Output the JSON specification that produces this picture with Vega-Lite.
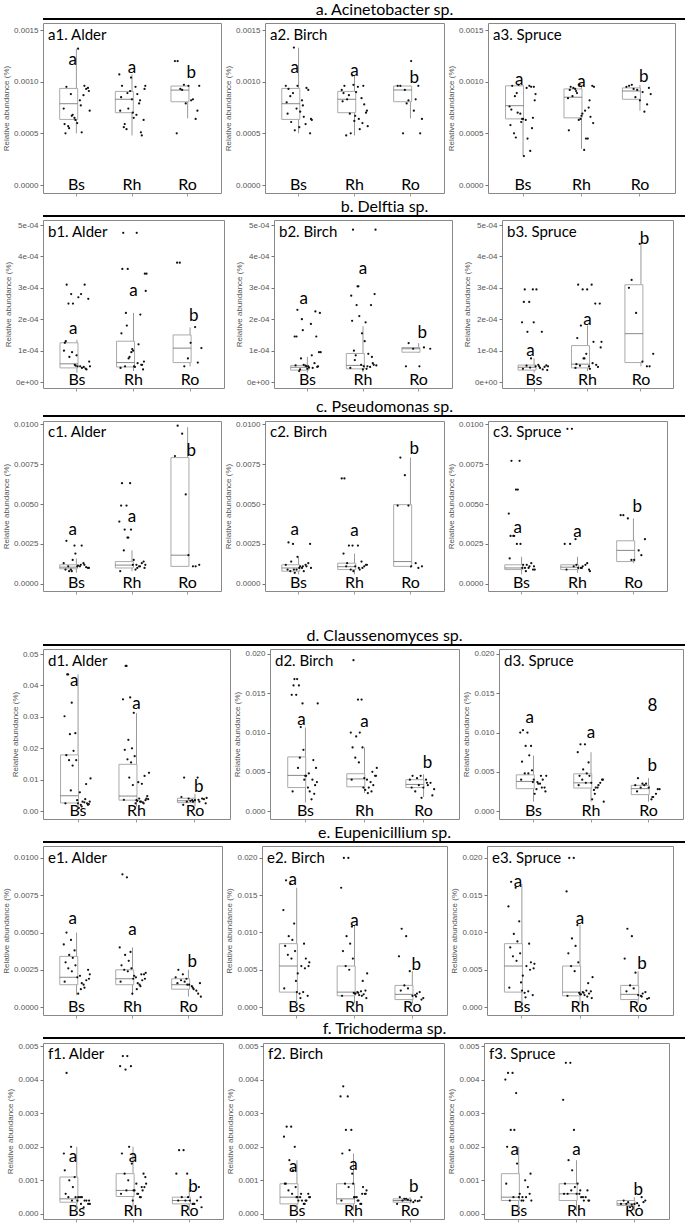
{"$schema":"https://vega.github.io/schema/vega-lite/v6.json","padding":{"left":2,"top":2,"right":0,"bottom":0},"background":"white","spacing":2,
"datasets":{"pts":[
{"p":"a1","g":"Bs","v":9.5e-4},{"p":"a1","g":"Bs","v":6.0e-4},{"p":"a1","g":"Bs","v":8.8e-4},{"p":"a1","g":"Bs","v":5.1e-4},{"p":"a1","g":"Bs","v":7.4e-4},{"p":"a1","g":"Bs","v":9.4e-4},{"p":"a1","g":"Bs","v":6.5e-4},{"p":"a1","g":"Bs","v":9.6e-4},{"p":"a1","g":"Bs","v":5.5e-4},{"p":"a1","g":"Bs","v":8.2e-4},{"p":"a1","g":"Bs","v":6.8e-4},{"p":"a1","g":"Bs","v":9.3e-4},{"p":"a1","g":"Bs","v":5.0e-4},{"p":"a1","g":"Bs","v":7.7e-4},{"p":"a1","g":"Bs","v":6.3e-4},{"p":"a1","g":"Bs","v":9.1e-4},{"p":"a1","g":"Bs","v":5.7e-4},{"p":"a1","g":"Bs","v":8.7e-4},{"p":"a1","g":"Bs","v":6.7e-4},{"p":"a1","g":"Bs","v":1.32e-3},{"p":"a1","g":"Bs","v":7.2e-4},{"p":"a1","g":"Bs","v":5.9e-4},
{"p":"a1","g":"Rh","v":9.6e-4},{"p":"a1","g":"Rh","v":7.0e-4},{"p":"a1","g":"Rh","v":5.4e-4},{"p":"a1","g":"Rh","v":8.8e-4},{"p":"a1","g":"Rh","v":1.07e-3},{"p":"a1","g":"Rh","v":6.3e-4},{"p":"a1","g":"Rh","v":9.1e-4},{"p":"a1","g":"Rh","v":8.2e-4},{"p":"a1","g":"Rh","v":5.9e-4},{"p":"a1","g":"Rh","v":9.5e-4},{"p":"a1","g":"Rh","v":7.4e-4},{"p":"a1","g":"Rh","v":4.8e-4},{"p":"a1","g":"Rh","v":8.5e-4},{"p":"a1","g":"Rh","v":6.8e-4},{"p":"a1","g":"Rh","v":1.04e-3},{"p":"a1","g":"Rh","v":9.3e-4},{"p":"a1","g":"Rh","v":5.6e-4},{"p":"a1","g":"Rh","v":7.9e-4},{"p":"a1","g":"Rh","v":8.9e-4},{"p":"a1","g":"Rh","v":6.5e-4},{"p":"a1","g":"Rh","v":9.6e-4},{"p":"a1","g":"Rh","v":7.2e-4},{"p":"a1","g":"Rh","v":5.1e-4},{"p":"a1","g":"Rh","v":8.3e-4},
{"p":"a1","g":"Ro","v":1.2e-3},{"p":"a1","g":"Ro","v":9.6e-4},{"p":"a1","g":"Ro","v":9.2e-4},{"p":"a1","g":"Ro","v":8.3e-4},{"p":"a1","g":"Ro","v":1.2e-3},{"p":"a1","g":"Ro","v":9.6e-4},{"p":"a1","g":"Ro","v":7.9e-4},{"p":"a1","g":"Ro","v":6.4e-4},{"p":"a1","g":"Ro","v":9.3e-4},{"p":"a1","g":"Ro","v":8.2e-4},{"p":"a1","g":"Ro","v":9.7e-4},{"p":"a1","g":"Ro","v":7.2e-4},{"p":"a1","g":"Ro","v":5.0e-4},
{"p":"a2","g":"Bs","v":9.3e-4},{"p":"a2","g":"Bs","v":5.6e-4},{"p":"a2","g":"Bs","v":8.9e-4},{"p":"a2","g":"Bs","v":6.6e-4},{"p":"a2","g":"Bs","v":9.6e-4},{"p":"a2","g":"Bs","v":5.0e-4},{"p":"a2","g":"Bs","v":7.4e-4},{"p":"a2","g":"Bs","v":9.4e-4},{"p":"a2","g":"Bs","v":6.1e-4},{"p":"a2","g":"Bs","v":8.2e-4},{"p":"a2","g":"Bs","v":5.3e-4},{"p":"a2","g":"Bs","v":9.2e-4},{"p":"a2","g":"Bs","v":6.9e-4},{"p":"a2","g":"Bs","v":7.7e-4},{"p":"a2","g":"Bs","v":9.6e-4},{"p":"a2","g":"Bs","v":6.4e-4},{"p":"a2","g":"Bs","v":8.6e-4},{"p":"a2","g":"Bs","v":5.9e-4},{"p":"a2","g":"Bs","v":1.33e-3},{"p":"a2","g":"Bs","v":7.1e-4},{"p":"a2","g":"Bs","v":6.3e-4},{"p":"a2","g":"Bs","v":8.0e-4},
{"p":"a2","g":"Rh","v":9.6e-4},{"p":"a2","g":"Rh","v":6.7e-4},{"p":"a2","g":"Rh","v":8.7e-4},{"p":"a2","g":"Rh","v":5.4e-4},{"p":"a2","g":"Rh","v":9.2e-4},{"p":"a2","g":"Rh","v":7.0e-4},{"p":"a2","g":"Rh","v":1.06e-3},{"p":"a2","g":"Rh","v":6.0e-4},{"p":"a2","g":"Rh","v":8.3e-4},{"p":"a2","g":"Rh","v":9.5e-4},{"p":"a2","g":"Rh","v":5.0e-4},{"p":"a2","g":"Rh","v":7.8e-4},{"p":"a2","g":"Rh","v":8.9e-4},{"p":"a2","g":"Rh","v":6.4e-4},{"p":"a2","g":"Rh","v":9.7e-4},{"p":"a2","g":"Rh","v":7.2e-4},{"p":"a2","g":"Rh","v":4.8e-4},{"p":"a2","g":"Rh","v":8.4e-4},{"p":"a2","g":"Rh","v":6.9e-4},{"p":"a2","g":"Rh","v":9.0e-4},{"p":"a2","g":"Rh","v":5.7e-4},{"p":"a2","g":"Rh","v":8.1e-4},{"p":"a2","g":"Rh","v":9.6e-4},{"p":"a2","g":"Rh","v":6.2e-4},
{"p":"a2","g":"Ro","v":9.6e-4},{"p":"a2","g":"Ro","v":1.2e-3},{"p":"a2","g":"Ro","v":9.2e-4},{"p":"a2","g":"Ro","v":8.3e-4},{"p":"a2","g":"Ro","v":9.6e-4},{"p":"a2","g":"Ro","v":6.4e-4},{"p":"a2","g":"Ro","v":8.2e-4},{"p":"a2","g":"Ro","v":9.6e-4},{"p":"a2","g":"Ro","v":5.0e-4},{"p":"a2","g":"Ro","v":7.2e-4},{"p":"a2","g":"Ro","v":7.9e-4},{"p":"a2","g":"Ro","v":5.0e-4},
{"p":"a3","g":"Bs","v":9.6e-4},{"p":"a3","g":"Bs","v":6.4e-4},{"p":"a3","g":"Bs","v":8.9e-4},{"p":"a3","g":"Bs","v":4.5e-4},{"p":"a3","g":"Bs","v":7.6e-4},{"p":"a3","g":"Bs","v":9.5e-4},{"p":"a3","g":"Bs","v":6.9e-4},{"p":"a3","g":"Bs","v":3.3e-4},{"p":"a3","g":"Bs","v":8.6e-4},{"p":"a3","g":"Bs","v":6.3e-4},{"p":"a3","g":"Bs","v":9.7e-4},{"p":"a3","g":"Bs","v":5.5e-4},{"p":"a3","g":"Bs","v":7.3e-4},{"p":"a3","g":"Bs","v":9.4e-4},{"p":"a3","g":"Bs","v":6.1e-4},{"p":"a3","g":"Bs","v":8.2e-4},{"p":"a3","g":"Bs","v":5.0e-4},{"p":"a3","g":"Bs","v":9.6e-4},{"p":"a3","g":"Bs","v":7.0e-4},{"p":"a3","g":"Bs","v":2.8e-4},{"p":"a3","g":"Bs","v":8.8e-4},{"p":"a3","g":"Bs","v":5.8e-4},{"p":"a3","g":"Bs","v":9.5e-4},{"p":"a3","g":"Bs","v":6.4e-4},{"p":"a3","g":"Bs","v":4.6e-4},{"p":"a3","g":"Bs","v":6.5e-4},
{"p":"a3","g":"Rh","v":9.5e-4},{"p":"a3","g":"Rh","v":6.7e-4},{"p":"a3","g":"Rh","v":9.3e-4},{"p":"a3","g":"Rh","v":4.5e-4},{"p":"a3","g":"Rh","v":8.4e-4},{"p":"a3","g":"Rh","v":9.6e-4},{"p":"a3","g":"Rh","v":6.3e-4},{"p":"a3","g":"Rh","v":7.5e-4},{"p":"a3","g":"Rh","v":9.4e-4},{"p":"a3","g":"Rh","v":3.4e-4},{"p":"a3","g":"Rh","v":8.9e-4},{"p":"a3","g":"Rh","v":6.6e-4},{"p":"a3","g":"Rh","v":9.2e-4},{"p":"a3","g":"Rh","v":7.2e-4},{"p":"a3","g":"Rh","v":9.7e-4},{"p":"a3","g":"Rh","v":6.0e-4},{"p":"a3","g":"Rh","v":8.6e-4},{"p":"a3","g":"Rh","v":4.5e-4},{"p":"a3","g":"Rh","v":9.1e-4},{"p":"a3","g":"Rh","v":6.9e-4},{"p":"a3","g":"Rh","v":9.5e-4},{"p":"a3","g":"Rh","v":5.3e-4},{"p":"a3","g":"Rh","v":8.2e-4},{"p":"a3","g":"Rh","v":6.4e-4},
{"p":"a3","g":"Ro","v":9.6e-4},{"p":"a3","g":"Ro","v":8.2e-4},{"p":"a3","g":"Ro","v":9.3e-4},{"p":"a3","g":"Ro","v":7.1e-4},{"p":"a3","g":"Ro","v":9.5e-4},{"p":"a3","g":"Ro","v":8.8e-4},{"p":"a3","g":"Ro","v":9.2e-4},{"p":"a3","g":"Ro","v":7.8e-4},{"p":"a3","g":"Ro","v":9.7e-4},{"p":"a3","g":"Ro","v":9.0e-4},{"p":"a3","g":"Ro","v":8.5e-4},{"p":"a3","g":"Ro","v":9.4e-4},
{"p":"b1","g":"Bs","v":3.1e-4},{"p":"b1","g":"Bs","v":5.0e-5},{"p":"b1","g":"Bs","v":2.8e-4},{"p":"b1","g":"Bs","v":4.5e-5},{"p":"b1","g":"Bs","v":1.0e-4},{"p":"b1","g":"Bs","v":2.65e-4},{"p":"b1","g":"Bs","v":5.5e-5},{"p":"b1","g":"Bs","v":3.1e-4},{"p":"b1","g":"Bs","v":8.0e-5},{"p":"b1","g":"Bs","v":5.0e-5},{"p":"b1","g":"Bs","v":2.5e-4},{"p":"b1","g":"Bs","v":4.0e-5},{"p":"b1","g":"Bs","v":1.3e-4},{"p":"b1","g":"Bs","v":2.8e-4},{"p":"b1","g":"Bs","v":5.2e-5},{"p":"b1","g":"Bs","v":6.5e-5},{"p":"b1","g":"Bs","v":2.5e-4},{"p":"b1","g":"Bs","v":4.8e-5},{"p":"b1","g":"Bs","v":9.5e-5},{"p":"b1","g":"Bs","v":2.7e-4},{"p":"b1","g":"Bs","v":5.0e-5},{"p":"b1","g":"Bs","v":1.25e-4},{"p":"b1","g":"Bs","v":4.3e-5},{"p":"b1","g":"Bs","v":8.5e-5},
{"p":"b1","g":"Rh","v":4.75e-4},{"p":"b1","g":"Rh","v":5.0e-5},{"p":"b1","g":"Rh","v":3.6e-4},{"p":"b1","g":"Rh","v":1.2e-4},{"p":"b1","g":"Rh","v":4.5e-5},{"p":"b1","g":"Rh","v":3.45e-4},{"p":"b1","g":"Rh","v":9.5e-5},{"p":"b1","g":"Rh","v":5.5e-5},{"p":"b1","g":"Rh","v":2.2e-4},{"p":"b1","g":"Rh","v":4.75e-4},{"p":"b1","g":"Rh","v":8.0e-5},{"p":"b1","g":"Rh","v":4.0e-5},{"p":"b1","g":"Rh","v":3.6e-4},{"p":"b1","g":"Rh","v":6.0e-5},{"p":"b1","g":"Rh","v":1.05e-4},{"p":"b1","g":"Rh","v":2.9e-4},{"p":"b1","g":"Rh","v":5.0e-5},{"p":"b1","g":"Rh","v":2.15e-4},{"p":"b1","g":"Rh","v":7.5e-5},{"p":"b1","g":"Rh","v":4.8e-5},{"p":"b1","g":"Rh","v":3.45e-4},{"p":"b1","g":"Rh","v":1.55e-4},{"p":"b1","g":"Rh","v":5.5e-5},{"p":"b1","g":"Rh","v":1.0e-4},{"p":"b1","g":"Rh","v":1.8e-4},{"p":"b1","g":"Rh","v":6.5e-5},
{"p":"b1","g":"Ro","v":3.8e-4},{"p":"b1","g":"Ro","v":1.25e-4},{"p":"b1","g":"Ro","v":5.0e-5},{"p":"b1","g":"Ro","v":1.75e-4},{"p":"b1","g":"Ro","v":3.8e-4},{"p":"b1","g":"Ro","v":1.08e-4},{"p":"b1","g":"Ro","v":7.5e-5},{"p":"b1","g":"Ro","v":6.2e-5},
{"p":"b2","g":"Bs","v":2.3e-4},{"p":"b2","g":"Bs","v":5.0e-5},{"p":"b2","g":"Bs","v":2.0e-4},{"p":"b2","g":"Bs","v":4.5e-5},{"p":"b2","g":"Bs","v":1.45e-4},{"p":"b2","g":"Bs","v":9.5e-5},{"p":"b2","g":"Bs","v":5.2e-5},{"p":"b2","g":"Bs","v":2.25e-4},{"p":"b2","g":"Bs","v":4.0e-5},{"p":"b2","g":"Bs","v":1.85e-4},{"p":"b2","g":"Bs","v":5.5e-5},{"p":"b2","g":"Bs","v":4.8e-5},{"p":"b2","g":"Bs","v":1.45e-4},{"p":"b2","g":"Bs","v":8.5e-5},{"p":"b2","g":"Bs","v":5.0e-5},{"p":"b2","g":"Bs","v":2.2e-4},{"p":"b2","g":"Bs","v":3.5e-5},{"p":"b2","g":"Bs","v":6.0e-5},{"p":"b2","g":"Bs","v":1.65e-4},{"p":"b2","g":"Bs","v":4.6e-5},{"p":"b2","g":"Bs","v":9.5e-5},{"p":"b2","g":"Bs","v":5.3e-5},{"p":"b2","g":"Bs","v":1.45e-4},{"p":"b2","g":"Bs","v":4.2e-5},{"p":"b2","g":"Bs","v":7.5e-5},{"p":"b2","g":"Bs","v":5.0e-5},
{"p":"b2","g":"Rh","v":4.85e-4},{"p":"b2","g":"Rh","v":5.0e-5},{"p":"b2","g":"Rh","v":3.05e-4},{"p":"b2","g":"Rh","v":9.0e-5},{"p":"b2","g":"Rh","v":4.5e-5},{"p":"b2","g":"Rh","v":2.8e-4},{"p":"b2","g":"Rh","v":5.5e-5},{"p":"b2","g":"Rh","v":2.45e-4},{"p":"b2","g":"Rh","v":8.5e-5},{"p":"b2","g":"Rh","v":4.2e-5},{"p":"b2","g":"Rh","v":2.1e-4},{"p":"b2","g":"Rh","v":6.0e-5},{"p":"b2","g":"Rh","v":1.95e-4},{"p":"b2","g":"Rh","v":5.0e-5},{"p":"b2","g":"Rh","v":1.55e-4},{"p":"b2","g":"Rh","v":4.85e-4},{"p":"b2","g":"Rh","v":7.0e-5},{"p":"b2","g":"Rh","v":4.8e-5},{"p":"b2","g":"Rh","v":3.05e-4},{"p":"b2","g":"Rh","v":1.3e-4},{"p":"b2","g":"Rh","v":5.3e-5},{"p":"b2","g":"Rh","v":2.75e-4},{"p":"b2","g":"Rh","v":8.0e-5},{"p":"b2","g":"Rh","v":4.0e-5},{"p":"b2","g":"Rh","v":2.45e-4},{"p":"b2","g":"Rh","v":5.5e-5},{"p":"b2","g":"Rh","v":1.9e-4},{"p":"b2","g":"Rh","v":1.0e-4},
{"p":"b2","g":"Ro","v":1.24e-4},{"p":"b2","g":"Ro","v":5.0e-5},{"p":"b2","g":"Ro","v":1.06e-4},{"p":"b2","g":"Ro","v":1.1e-4},{"p":"b2","g":"Ro","v":5.0e-5},{"p":"b2","g":"Ro","v":1.06e-4},
{"p":"b3","g":"Bs","v":2.95e-4},{"p":"b3","g":"Bs","v":5.0e-5},{"p":"b3","g":"Bs","v":2.55e-4},{"p":"b3","g":"Bs","v":4.5e-5},{"p":"b3","g":"Bs","v":1.9e-4},{"p":"b3","g":"Bs","v":5.3e-5},{"p":"b3","g":"Bs","v":2.95e-4},{"p":"b3","g":"Bs","v":4.0e-5},{"p":"b3","g":"Bs","v":1.6e-4},{"p":"b3","g":"Bs","v":5.5e-5},{"p":"b3","g":"Bs","v":7.5e-5},{"p":"b3","g":"Bs","v":4.8e-5},{"p":"b3","g":"Bs","v":2.55e-4},{"p":"b3","g":"Bs","v":5.0e-5},{"p":"b3","g":"Bs","v":1.9e-4},{"p":"b3","g":"Bs","v":3.8e-5},{"p":"b3","g":"Bs","v":5.2e-5},{"p":"b3","g":"Bs","v":1.6e-4},{"p":"b3","g":"Bs","v":4.6e-5},{"p":"b3","g":"Bs","v":2.95e-4},{"p":"b3","g":"Bs","v":5.0e-5},{"p":"b3","g":"Bs","v":4.2e-5},
{"p":"b3","g":"Rh","v":3.1e-4},{"p":"b3","g":"Rh","v":5.0e-5},{"p":"b3","g":"Rh","v":2.95e-4},{"p":"b3","g":"Rh","v":1.28e-4},{"p":"b3","g":"Rh","v":4.5e-5},{"p":"b3","g":"Rh","v":2.5e-4},{"p":"b3","g":"Rh","v":9.0e-5},{"p":"b3","g":"Rh","v":5.5e-5},{"p":"b3","g":"Rh","v":1.8e-4},{"p":"b3","g":"Rh","v":3.1e-4},{"p":"b3","g":"Rh","v":7.5e-5},{"p":"b3","g":"Rh","v":4.8e-5},{"p":"b3","g":"Rh","v":1.4e-4},{"p":"b3","g":"Rh","v":6.0e-5},{"p":"b3","g":"Rh","v":2.95e-4},{"p":"b3","g":"Rh","v":1.1e-4},{"p":"b3","g":"Rh","v":5.2e-5},{"p":"b3","g":"Rh","v":2.5e-4},{"p":"b3","g":"Rh","v":7.5e-5},{"p":"b3","g":"Rh","v":4.2e-5},{"p":"b3","g":"Rh","v":1.28e-4},{"p":"b3","g":"Rh","v":5.7e-5},
{"p":"b3","g":"Ro","v":3.25e-4},{"p":"b3","g":"Ro","v":6.5e-5},{"p":"b3","g":"Ro","v":2.2e-4},{"p":"b3","g":"Ro","v":5.0e-5},{"p":"b3","g":"Ro","v":3.0e-4},{"p":"b3","g":"Ro","v":9.0e-5},{"p":"b3","g":"Ro","v":4.4e-4},{"p":"b3","g":"Ro","v":5.0e-5},
{"p":"c1","g":"Bs","v":0.0027},{"p":"c1","g":"Bs","v":0.0011},{"p":"c1","g":"Bs","v":0.0009},{"p":"c1","g":"Bs","v":0.0024},{"p":"c1","g":"Bs","v":0.0013},{"p":"c1","g":"Bs","v":0.001},{"p":"c1","g":"Bs","v":0.0024},{"p":"c1","g":"Bs","v":0.0012},{"p":"c1","g":"Bs","v":0.0008},{"p":"c1","g":"Bs","v":0.0011},{"p":"c1","g":"Bs","v":0.0015},{"p":"c1","g":"Bs","v":0.00105},{"p":"c1","g":"Bs","v":0.0009},{"p":"c1","g":"Bs","v":0.0012},{"p":"c1","g":"Bs","v":0.0019},{"p":"c1","g":"Bs","v":0.001},{"p":"c1","g":"Bs","v":0.0011},{"p":"c1","g":"Bs","v":0.0013},{"p":"c1","g":"Bs","v":0.0008},{"p":"c1","g":"Bs","v":0.00115},
{"p":"c1","g":"Rh","v":0.0063},{"p":"c1","g":"Rh","v":0.0012},{"p":"c1","g":"Rh","v":0.0049},{"p":"c1","g":"Rh","v":0.001},{"p":"c1","g":"Rh","v":0.0039},{"p":"c1","g":"Rh","v":0.0014},{"p":"c1","g":"Rh","v":0.0063},{"p":"c1","g":"Rh","v":0.0011},{"p":"c1","g":"Rh","v":0.0034},{"p":"c1","g":"Rh","v":0.0009},{"p":"c1","g":"Rh","v":0.0029},{"p":"c1","g":"Rh","v":0.0013},{"p":"c1","g":"Rh","v":0.0049},{"p":"c1","g":"Rh","v":0.0012},{"p":"c1","g":"Rh","v":0.0034},{"p":"c1","g":"Rh","v":0.001},{"p":"c1","g":"Rh","v":0.0021},{"p":"c1","g":"Rh","v":0.0011},{"p":"c1","g":"Rh","v":0.0029},{"p":"c1","g":"Rh","v":0.0015},{"p":"c1","g":"Rh","v":0.0012},{"p":"c1","g":"Rh","v":0.0008},
{"p":"c1","g":"Ro","v":0.0099},{"p":"c1","g":"Ro","v":0.0018},{"p":"c1","g":"Ro","v":0.0094},{"p":"c1","g":"Ro","v":0.0011},{"p":"c1","g":"Ro","v":0.008},{"p":"c1","g":"Ro","v":0.0012},{"p":"c1","g":"Ro","v":0.0056},{"p":"c1","g":"Ro","v":0.0011},
{"p":"c2","g":"Bs","v":0.0026},{"p":"c2","g":"Bs","v":0.001},{"p":"c2","g":"Bs","v":0.0025},{"p":"c2","g":"Bs","v":0.0008},{"p":"c2","g":"Bs","v":0.0012},{"p":"c2","g":"Bs","v":0.0025},{"p":"c2","g":"Bs","v":0.0009},{"p":"c2","g":"Bs","v":0.0011},{"p":"c2","g":"Bs","v":0.0014},{"p":"c2","g":"Bs","v":0.001},{"p":"c2","g":"Bs","v":0.0007},{"p":"c2","g":"Bs","v":0.0013},{"p":"c2","g":"Bs","v":0.0009},{"p":"c2","g":"Bs","v":0.0011},{"p":"c2","g":"Bs","v":0.0017},{"p":"c2","g":"Bs","v":0.001},{"p":"c2","g":"Bs","v":0.0008},{"p":"c2","g":"Bs","v":0.0012},{"p":"c2","g":"Bs","v":0.0009},{"p":"c2","g":"Bs","v":0.0011},
{"p":"c2","g":"Rh","v":0.0066},{"p":"c2","g":"Rh","v":0.0011},{"p":"c2","g":"Rh","v":0.0024},{"p":"c2","g":"Rh","v":0.0009},{"p":"c2","g":"Rh","v":0.0066},{"p":"c2","g":"Rh","v":0.0012},{"p":"c2","g":"Rh","v":0.0024},{"p":"c2","g":"Rh","v":0.001},{"p":"c2","g":"Rh","v":0.0013},{"p":"c2","g":"Rh","v":0.0024},{"p":"c2","g":"Rh","v":0.0009},{"p":"c2","g":"Rh","v":0.0011},{"p":"c2","g":"Rh","v":0.0019},{"p":"c2","g":"Rh","v":0.001},{"p":"c2","g":"Rh","v":0.0008},{"p":"c2","g":"Rh","v":0.0012},{"p":"c2","g":"Rh","v":0.0011},{"p":"c2","g":"Rh","v":0.0014},
{"p":"c2","g":"Ro","v":0.0079},{"p":"c2","g":"Ro","v":0.0011},{"p":"c2","g":"Ro","v":0.0068},{"p":"c2","g":"Ro","v":0.0013},{"p":"c2","g":"Ro","v":0.0049},{"p":"c2","g":"Ro","v":0.0011},{"p":"c2","g":"Ro","v":0.0049},{"p":"c2","g":"Ro","v":0.001},
{"p":"c3","g":"Bs","v":0.0077},{"p":"c3","g":"Bs","v":0.001},{"p":"c3","g":"Bs","v":0.0059},{"p":"c3","g":"Bs","v":0.0012},{"p":"c3","g":"Bs","v":0.0044},{"p":"c3","g":"Bs","v":0.0009},{"p":"c3","g":"Bs","v":0.0077},{"p":"c3","g":"Bs","v":0.0011},{"p":"c3","g":"Bs","v":0.003},{"p":"c3","g":"Bs","v":0.001},{"p":"c3","g":"Bs","v":0.0059},{"p":"c3","g":"Bs","v":0.0013},{"p":"c3","g":"Bs","v":0.003},{"p":"c3","g":"Bs","v":0.0008},{"p":"c3","g":"Bs","v":0.0025},{"p":"c3","g":"Bs","v":0.0011},{"p":"c3","g":"Bs","v":0.003},{"p":"c3","g":"Bs","v":0.001},{"p":"c3","g":"Bs","v":0.0025},{"p":"c3","g":"Bs","v":0.0012},{"p":"c3","g":"Bs","v":0.0009},{"p":"c3","g":"Bs","v":0.0016},
{"p":"c3","g":"Rh","v":0.0097},{"p":"c3","g":"Rh","v":0.001},{"p":"c3","g":"Rh","v":0.0097},{"p":"c3","g":"Rh","v":0.0011},{"p":"c3","g":"Rh","v":0.0025},{"p":"c3","g":"Rh","v":0.0009},{"p":"c3","g":"Rh","v":0.0028},{"p":"c3","g":"Rh","v":0.0012},{"p":"c3","g":"Rh","v":0.0025},{"p":"c3","g":"Rh","v":0.001},{"p":"c3","g":"Rh","v":0.0011},{"p":"c3","g":"Rh","v":0.0013},{"p":"c3","g":"Rh","v":0.0009},{"p":"c3","g":"Rh","v":0.001},{"p":"c3","g":"Rh","v":0.0012},{"p":"c3","g":"Rh","v":0.0008},
{"p":"c3","g":"Ro","v":0.0043},{"p":"c3","g":"Ro","v":0.0015},{"p":"c3","g":"Ro","v":0.0041},{"p":"c3","g":"Ro","v":0.0021},{"p":"c3","g":"Ro","v":0.0043},{"p":"c3","g":"Ro","v":0.0028},{"p":"c3","g":"Ro","v":0.0015},{"p":"c3","g":"Ro","v":0.0018},
{"p":"d1","g":"Bs","v":0.0435},{"p":"d1","g":"Bs","v":0.0025},{"p":"d1","g":"Bs","v":0.0345},{"p":"d1","g":"Bs","v":0.003},{"p":"d1","g":"Bs","v":0.0302},{"p":"d1","g":"Bs","v":0.0022},{"p":"d1","g":"Bs","v":0.0248},{"p":"d1","g":"Bs","v":0.0038},{"p":"d1","g":"Bs","v":0.0245},{"p":"d1","g":"Bs","v":0.002},{"p":"d1","g":"Bs","v":0.0192},{"p":"d1","g":"Bs","v":0.0025},{"p":"d1","g":"Bs","v":0.0178},{"p":"d1","g":"Bs","v":0.0015},{"p":"d1","g":"Bs","v":0.0162},{"p":"d1","g":"Bs","v":0.003},{"p":"d1","g":"Bs","v":0.0162},{"p":"d1","g":"Bs","v":0.0028},{"p":"d1","g":"Bs","v":0.0145},{"p":"d1","g":"Bs","v":0.001},{"p":"d1","g":"Bs","v":0.0104},{"p":"d1","g":"Bs","v":0.0025},{"p":"d1","g":"Bs","v":0.0086},{"p":"d1","g":"Bs","v":0.0035},{"p":"d1","g":"Bs","v":0.0066},{"p":"d1","g":"Bs","v":0.002},{"p":"d1","g":"Bs","v":0.006},{"p":"d1","g":"Bs","v":0.0435},
{"p":"d1","g":"Rh","v":0.0462},{"p":"d1","g":"Rh","v":0.0035},{"p":"d1","g":"Rh","v":0.0362},{"p":"d1","g":"Rh","v":0.003},{"p":"d1","g":"Rh","v":0.0356},{"p":"d1","g":"Rh","v":0.0048},{"p":"d1","g":"Rh","v":0.0313},{"p":"d1","g":"Rh","v":0.0025},{"p":"d1","g":"Rh","v":0.0227},{"p":"d1","g":"Rh","v":0.004},{"p":"d1","g":"Rh","v":0.02},{"p":"d1","g":"Rh","v":0.0035},{"p":"d1","g":"Rh","v":0.0195},{"p":"d1","g":"Rh","v":0.003},{"p":"d1","g":"Rh","v":0.0175},{"p":"d1","g":"Rh","v":0.0038},{"p":"d1","g":"Rh","v":0.0165},{"p":"d1","g":"Rh","v":0.0028},{"p":"d1","g":"Rh","v":0.0155},{"p":"d1","g":"Rh","v":0.0033},{"p":"d1","g":"Rh","v":0.0122},{"p":"d1","g":"Rh","v":0.0036},{"p":"d1","g":"Rh","v":0.0112},{"p":"d1","g":"Rh","v":0.0025},{"p":"d1","g":"Rh","v":0.0107},{"p":"d1","g":"Rh","v":0.004},{"p":"d1","g":"Rh","v":0.0092},{"p":"d1","g":"Rh","v":0.0462},{"p":"d1","g":"Rh","v":0.0087},{"p":"d1","g":"Rh","v":0.0083},
{"p":"d1","g":"Ro","v":0.0107},{"p":"d1","g":"Ro","v":0.0035},{"p":"d1","g":"Ro","v":0.004},{"p":"d1","g":"Ro","v":0.003},{"p":"d1","g":"Ro","v":0.0045},{"p":"d1","g":"Ro","v":0.0025},{"p":"d1","g":"Ro","v":0.0035},{"p":"d1","g":"Ro","v":0.004},{"p":"d1","g":"Ro","v":0.003},{"p":"d1","g":"Ro","v":0.0107},{"p":"d1","g":"Ro","v":0.0033},{"p":"d1","g":"Ro","v":0.0038},{"p":"d1","g":"Ro","v":0.002},{"p":"d1","g":"Ro","v":0.0036},{"p":"d1","g":"Ro","v":0.003},{"p":"d1","g":"Ro","v":0.0042},
{"p":"d2","g":"Bs","v":0.0168},{"p":"d2","g":"Bs","v":0.0045},{"p":"d2","g":"Bs","v":0.016},{"p":"d2","g":"Bs","v":0.0025},{"p":"d2","g":"Bs","v":0.0148},{"p":"d2","g":"Bs","v":0.0055},{"p":"d2","g":"Bs","v":0.0137},{"p":"d2","g":"Bs","v":0.004},{"p":"d2","g":"Bs","v":0.0168},{"p":"d2","g":"Bs","v":0.003},{"p":"d2","g":"Bs","v":0.0107},{"p":"d2","g":"Bs","v":0.0022},{"p":"d2","g":"Bs","v":0.016},{"p":"d2","g":"Bs","v":0.0048},{"p":"d2","g":"Bs","v":0.0078},{"p":"d2","g":"Bs","v":0.0037},{"p":"d2","g":"Bs","v":0.0148},{"p":"d2","g":"Bs","v":0.0015},{"p":"d2","g":"Bs","v":0.0068},{"p":"d2","g":"Bs","v":0.0045},{"p":"d2","g":"Bs","v":0.0137},{"p":"d2","g":"Bs","v":0.0025},{"p":"d2","g":"Bs","v":0.0065},{"p":"d2","g":"Bs","v":0.004},{"p":"d2","g":"Bs","v":0.0055},{"p":"d2","g":"Bs","v":0.0033},
{"p":"d2","g":"Rh","v":0.0192},{"p":"d2","g":"Rh","v":0.0042},{"p":"d2","g":"Rh","v":0.0142},{"p":"d2","g":"Rh","v":0.003},{"p":"d2","g":"Rh","v":0.01},{"p":"d2","g":"Rh","v":0.0045},{"p":"d2","g":"Rh","v":0.0142},{"p":"d2","g":"Rh","v":0.0025},{"p":"d2","g":"Rh","v":0.0095},{"p":"d2","g":"Rh","v":0.004},{"p":"d2","g":"Rh","v":0.01},{"p":"d2","g":"Rh","v":0.0033},{"p":"d2","g":"Rh","v":0.0081},{"p":"d2","g":"Rh","v":0.0023},{"p":"d2","g":"Rh","v":0.0081},{"p":"d2","g":"Rh","v":0.0045},{"p":"d2","g":"Rh","v":0.0068},{"p":"d2","g":"Rh","v":0.0037},{"p":"d2","g":"Rh","v":0.0062},{"p":"d2","g":"Rh","v":0.0027},{"p":"d2","g":"Rh","v":0.0055},{"p":"d2","g":"Rh","v":0.004},{"p":"d2","g":"Rh","v":0.005},{"p":"d2","g":"Rh","v":0.003},
{"p":"d2","g":"Ro","v":0.0045},{"p":"d2","g":"Ro","v":0.003},{"p":"d2","g":"Ro","v":0.0042},{"p":"d2","g":"Ro","v":0.0033},{"p":"d2","g":"Ro","v":0.004},{"p":"d2","g":"Ro","v":0.0028},{"p":"d2","g":"Ro","v":0.0045},{"p":"d2","g":"Ro","v":0.0036},{"p":"d2","g":"Ro","v":0.0025},{"p":"d2","g":"Ro","v":0.004},{"p":"d2","g":"Ro","v":0.0033},{"p":"d2","g":"Ro","v":0.002},{"p":"d2","g":"Ro","v":0.003},{"p":"d2","g":"Ro","v":0.0036},{"p":"d2","g":"Ro","v":0.0017},
{"p":"d3","g":"Bs","v":0.0103},{"p":"d3","g":"Bs","v":0.004},{"p":"d3","g":"Bs","v":0.01},{"p":"d3","g":"Bs","v":0.0035},{"p":"d3","g":"Bs","v":0.01},{"p":"d3","g":"Bs","v":0.003},{"p":"d3","g":"Bs","v":0.0083},{"p":"d3","g":"Bs","v":0.0045},{"p":"d3","g":"Bs","v":0.0083},{"p":"d3","g":"Bs","v":0.0028},{"p":"d3","g":"Bs","v":0.0071},{"p":"d3","g":"Bs","v":0.004},{"p":"d3","g":"Bs","v":0.0063},{"p":"d3","g":"Bs","v":0.0037},{"p":"d3","g":"Bs","v":0.0052},{"p":"d3","g":"Bs","v":0.0025},{"p":"d3","g":"Bs","v":0.0048},{"p":"d3","g":"Bs","v":0.0035},{"p":"d3","g":"Bs","v":0.0048},{"p":"d3","g":"Bs","v":0.0022},{"p":"d3","g":"Bs","v":0.0045},{"p":"d3","g":"Bs","v":0.004},{"p":"d3","g":"Bs","v":0.003},{"p":"d3","g":"Bs","v":0.0037},
{"p":"d3","g":"Rh","v":0.0085},{"p":"d3","g":"Rh","v":0.0036},{"p":"d3","g":"Rh","v":0.0085},{"p":"d3","g":"Rh","v":0.003},{"p":"d3","g":"Rh","v":0.0075},{"p":"d3","g":"Rh","v":0.004},{"p":"d3","g":"Rh","v":0.0062},{"p":"d3","g":"Rh","v":0.0033},{"p":"d3","g":"Rh","v":0.0053},{"p":"d3","g":"Rh","v":0.0027},{"p":"d3","g":"Rh","v":0.0048},{"p":"d3","g":"Rh","v":0.0036},{"p":"d3","g":"Rh","v":0.0045},{"p":"d3","g":"Rh","v":0.0022},{"p":"d3","g":"Rh","v":0.0045},{"p":"d3","g":"Rh","v":0.004},{"p":"d3","g":"Rh","v":0.004},{"p":"d3","g":"Rh","v":0.003},{"p":"d3","g":"Rh","v":0.0036},{"p":"d3","g":"Rh","v":0.0015},{"p":"d3","g":"Rh","v":0.0012},{"p":"d3","g":"Rh","v":0.0033},
{"p":"d3","g":"Ro","v":0.0042},{"p":"d3","g":"Ro","v":0.003},{"p":"d3","g":"Ro","v":0.0035},{"p":"d3","g":"Ro","v":0.0018},{"p":"d3","g":"Ro","v":0.0033},{"p":"d3","g":"Ro","v":0.0028},{"p":"d3","g":"Ro","v":0.0035},{"p":"d3","g":"Ro","v":0.0022},{"p":"d3","g":"Ro","v":0.003},{"p":"d3","g":"Ro","v":0.0015},{"p":"d3","g":"Ro","v":0.0033},{"p":"d3","g":"Ro","v":0.0028},{"p":"d3","g":"Ro","v":0.0025},{"p":"d3","g":"Ro","v":0.0018},
{"p":"e1","g":"Bs","v":0.005},{"p":"e1","g":"Bs","v":0.002},{"p":"e1","g":"Bs","v":0.0045},{"p":"e1","g":"Bs","v":0.0016},{"p":"e1","g":"Bs","v":0.0042},{"p":"e1","g":"Bs","v":0.0025},{"p":"e1","g":"Bs","v":0.0038},{"p":"e1","g":"Bs","v":0.0013},{"p":"e1","g":"Bs","v":0.0035},{"p":"e1","g":"Bs","v":0.0021},{"p":"e1","g":"Bs","v":0.0033},{"p":"e1","g":"Bs","v":0.0018},{"p":"e1","g":"Bs","v":0.003},{"p":"e1","g":"Bs","v":0.0012},{"p":"e1","g":"Bs","v":0.0028},{"p":"e1","g":"Bs","v":0.0019},{"p":"e1","g":"Bs","v":0.0026},{"p":"e1","g":"Bs","v":0.0015},{"p":"e1","g":"Bs","v":0.0024},{"p":"e1","g":"Bs","v":0.0009},{"p":"e1","g":"Bs","v":0.0022},{"p":"e1","g":"Bs","v":0.0017},
{"p":"e1","g":"Rh","v":0.0089},{"p":"e1","g":"Rh","v":0.0019},{"p":"e1","g":"Rh","v":0.0087},{"p":"e1","g":"Rh","v":0.0016},{"p":"e1","g":"Rh","v":0.004},{"p":"e1","g":"Rh","v":0.0022},{"p":"e1","g":"Rh","v":0.0037},{"p":"e1","g":"Rh","v":0.0014},{"p":"e1","g":"Rh","v":0.0035},{"p":"e1","g":"Rh","v":0.002},{"p":"e1","g":"Rh","v":0.0031},{"p":"e1","g":"Rh","v":0.0018},{"p":"e1","g":"Rh","v":0.0028},{"p":"e1","g":"Rh","v":0.0012},{"p":"e1","g":"Rh","v":0.0026},{"p":"e1","g":"Rh","v":0.0019},{"p":"e1","g":"Rh","v":0.0025},{"p":"e1","g":"Rh","v":0.0015},{"p":"e1","g":"Rh","v":0.0024},{"p":"e1","g":"Rh","v":0.0021},{"p":"e1","g":"Rh","v":0.0023},{"p":"e1","g":"Rh","v":0.0017},{"p":"e1","g":"Rh","v":0.0022},{"p":"e1","g":"Rh","v":0.0009},
{"p":"e1","g":"Ro","v":0.0025},{"p":"e1","g":"Ro","v":0.0015},{"p":"e1","g":"Ro","v":0.0022},{"p":"e1","g":"Ro","v":0.0012},{"p":"e1","g":"Ro","v":0.002},{"p":"e1","g":"Ro","v":0.0016},{"p":"e1","g":"Ro","v":0.0019},{"p":"e1","g":"Ro","v":0.0011},{"p":"e1","g":"Ro","v":0.0018},{"p":"e1","g":"Ro","v":0.0014},{"p":"e1","g":"Ro","v":0.0017},{"p":"e1","g":"Ro","v":0.0009},{"p":"e1","g":"Ro","v":0.0016},{"p":"e1","g":"Ro","v":0.0013},{"p":"e1","g":"Ro","v":0.0015},{"p":"e1","g":"Ro","v":0.0007},
{"p":"e2","g":"Bs","v":0.017},{"p":"e2","g":"Bs","v":0.002},{"p":"e2","g":"Bs","v":0.0165},{"p":"e2","g":"Bs","v":0.0055},{"p":"e2","g":"Bs","v":0.013},{"p":"e2","g":"Bs","v":0.0015},{"p":"e2","g":"Bs","v":0.0112},{"p":"e2","g":"Bs","v":0.0085},{"p":"e2","g":"Bs","v":0.0095},{"p":"e2","g":"Bs","v":0.0018},{"p":"e2","g":"Bs","v":0.009},{"p":"e2","g":"Bs","v":0.0065},{"p":"e2","g":"Bs","v":0.0082},{"p":"e2","g":"Bs","v":0.0012},{"p":"e2","g":"Bs","v":0.0075},{"p":"e2","g":"Bs","v":0.0055},{"p":"e2","g":"Bs","v":0.007},{"p":"e2","g":"Bs","v":0.002},{"p":"e2","g":"Bs","v":0.0065},{"p":"e2","g":"Bs","v":0.0045},{"p":"e2","g":"Bs","v":0.006},{"p":"e2","g":"Bs","v":0.0025},{"p":"e2","g":"Bs","v":0.0052},{"p":"e2","g":"Bs","v":0.0035},
{"p":"e2","g":"Rh","v":0.02},{"p":"e2","g":"Rh","v":0.0018},{"p":"e2","g":"Rh","v":0.02},{"p":"e2","g":"Rh","v":0.0016},{"p":"e2","g":"Rh","v":0.016},{"p":"e2","g":"Rh","v":0.0022},{"p":"e2","g":"Rh","v":0.0108},{"p":"e2","g":"Rh","v":0.0015},{"p":"e2","g":"Rh","v":0.0095},{"p":"e2","g":"Rh","v":0.002},{"p":"e2","g":"Rh","v":0.0085},{"p":"e2","g":"Rh","v":0.0017},{"p":"e2","g":"Rh","v":0.0075},{"p":"e2","g":"Rh","v":0.0019},{"p":"e2","g":"Rh","v":0.0065},{"p":"e2","g":"Rh","v":0.0012},{"p":"e2","g":"Rh","v":0.0055},{"p":"e2","g":"Rh","v":0.0021},{"p":"e2","g":"Rh","v":0.005},{"p":"e2","g":"Rh","v":0.0018},{"p":"e2","g":"Rh","v":0.0045},{"p":"e2","g":"Rh","v":0.0015},{"p":"e2","g":"Rh","v":0.0035},{"p":"e2","g":"Rh","v":0.0019},
{"p":"e2","g":"Ro","v":0.0105},{"p":"e2","g":"Ro","v":0.0015},{"p":"e2","g":"Ro","v":0.0095},{"p":"e2","g":"Ro","v":0.0018},{"p":"e2","g":"Ro","v":0.0068},{"p":"e2","g":"Ro","v":0.0012},{"p":"e2","g":"Ro","v":0.0048},{"p":"e2","g":"Ro","v":0.002},{"p":"e2","g":"Ro","v":0.0029},{"p":"e2","g":"Ro","v":0.0016},{"p":"e2","g":"Ro","v":0.0025},{"p":"e2","g":"Ro","v":0.001},{"p":"e2","g":"Ro","v":0.0022},{"p":"e2","g":"Ro","v":0.0014},
{"p":"e3","g":"Bs","v":0.0168},{"p":"e3","g":"Bs","v":0.0022},{"p":"e3","g":"Bs","v":0.016},{"p":"e3","g":"Bs","v":0.0055},{"p":"e3","g":"Bs","v":0.0135},{"p":"e3","g":"Bs","v":0.0016},{"p":"e3","g":"Bs","v":0.0115},{"p":"e3","g":"Bs","v":0.0085},{"p":"e3","g":"Bs","v":0.0098},{"p":"e3","g":"Bs","v":0.0019},{"p":"e3","g":"Bs","v":0.0088},{"p":"e3","g":"Bs","v":0.006},{"p":"e3","g":"Bs","v":0.008},{"p":"e3","g":"Bs","v":0.0013},{"p":"e3","g":"Bs","v":0.0072},{"p":"e3","g":"Bs","v":0.0052},{"p":"e3","g":"Bs","v":0.0068},{"p":"e3","g":"Bs","v":0.0021},{"p":"e3","g":"Bs","v":0.0062},{"p":"e3","g":"Bs","v":0.0042},{"p":"e3","g":"Bs","v":0.0058},{"p":"e3","g":"Bs","v":0.0026},{"p":"e3","g":"Bs","v":0.005},{"p":"e3","g":"Bs","v":0.0033},
{"p":"e3","g":"Rh","v":0.02},{"p":"e3","g":"Rh","v":0.0017},{"p":"e3","g":"Rh","v":0.02},{"p":"e3","g":"Rh","v":0.0016},{"p":"e3","g":"Rh","v":0.0155},{"p":"e3","g":"Rh","v":0.0021},{"p":"e3","g":"Rh","v":0.011},{"p":"e3","g":"Rh","v":0.0014},{"p":"e3","g":"Rh","v":0.0092},{"p":"e3","g":"Rh","v":0.002},{"p":"e3","g":"Rh","v":0.0082},{"p":"e3","g":"Rh","v":0.0018},{"p":"e3","g":"Rh","v":0.0072},{"p":"e3","g":"Rh","v":0.0019},{"p":"e3","g":"Rh","v":0.006},{"p":"e3","g":"Rh","v":0.0012},{"p":"e3","g":"Rh","v":0.0055},{"p":"e3","g":"Rh","v":0.0022},{"p":"e3","g":"Rh","v":0.0048},{"p":"e3","g":"Rh","v":0.0017},{"p":"e3","g":"Rh","v":0.004},{"p":"e3","g":"Rh","v":0.0015},{"p":"e3","g":"Rh","v":0.0032},{"p":"e3","g":"Rh","v":0.0019},
{"p":"e3","g":"Ro","v":0.0105},{"p":"e3","g":"Ro","v":0.0016},{"p":"e3","g":"Ro","v":0.0095},{"p":"e3","g":"Ro","v":0.0018},{"p":"e3","g":"Ro","v":0.0065},{"p":"e3","g":"Ro","v":0.0012},{"p":"e3","g":"Ro","v":0.0046},{"p":"e3","g":"Ro","v":0.002},{"p":"e3","g":"Ro","v":0.0029},{"p":"e3","g":"Ro","v":0.0015},{"p":"e3","g":"Ro","v":0.0025},{"p":"e3","g":"Ro","v":0.0011},{"p":"e3","g":"Ro","v":0.0021},{"p":"e3","g":"Ro","v":0.0014},
{"p":"f1","g":"Bs","v":0.0042},{"p":"f1","g":"Bs","v":0.0004},{"p":"f1","g":"Bs","v":0.002},{"p":"f1","g":"Bs","v":0.0005},{"p":"f1","g":"Bs","v":0.0018},{"p":"f1","g":"Bs","v":0.0003},{"p":"f1","g":"Bs","v":0.0011},{"p":"f1","g":"Bs","v":0.0004},{"p":"f1","g":"Bs","v":0.001},{"p":"f1","g":"Bs","v":0.0005},{"p":"f1","g":"Bs","v":0.0008},{"p":"f1","g":"Bs","v":0.0004},{"p":"f1","g":"Bs","v":0.0006},{"p":"f1","g":"Bs","v":0.0003},{"p":"f1","g":"Bs","v":0.0005},{"p":"f1","g":"Bs","v":0.0004},{"p":"f1","g":"Bs","v":0.0005},{"p":"f1","g":"Bs","v":0.0002},{"p":"f1","g":"Bs","v":0.0004},{"p":"f1","g":"Bs","v":0.0005},{"p":"f1","g":"Bs","v":0.0003},{"p":"f1","g":"Bs","v":0.0013},
{"p":"f1","g":"Rh","v":0.0047},{"p":"f1","g":"Rh","v":0.0007},{"p":"f1","g":"Rh","v":0.0047},{"p":"f1","g":"Rh","v":0.0006},{"p":"f1","g":"Rh","v":0.0044},{"p":"f1","g":"Rh","v":0.0008},{"p":"f1","g":"Rh","v":0.0044},{"p":"f1","g":"Rh","v":0.0005},{"p":"f1","g":"Rh","v":0.0043},{"p":"f1","g":"Rh","v":0.0009},{"p":"f1","g":"Rh","v":0.002},{"p":"f1","g":"Rh","v":0.0007},{"p":"f1","g":"Rh","v":0.0018},{"p":"f1","g":"Rh","v":0.0006},{"p":"f1","g":"Rh","v":0.0015},{"p":"f1","g":"Rh","v":0.0011},{"p":"f1","g":"Rh","v":0.0012},{"p":"f1","g":"Rh","v":0.0005},{"p":"f1","g":"Rh","v":0.001},{"p":"f1","g":"Rh","v":0.0007},{"p":"f1","g":"Rh","v":0.0009},{"p":"f1","g":"Rh","v":0.0006},{"p":"f1","g":"Rh","v":0.0008},{"p":"f1","g":"Rh","v":0.0004},{"p":"f1","g":"Rh","v":0.0007},{"p":"f1","g":"Rh","v":0.0012},
{"p":"f1","g":"Ro","v":0.0019},{"p":"f1","g":"Ro","v":0.0004},{"p":"f1","g":"Ro","v":0.0019},{"p":"f1","g":"Ro","v":0.0003},{"p":"f1","g":"Ro","v":0.0012},{"p":"f1","g":"Ro","v":0.0005},{"p":"f1","g":"Ro","v":0.0012},{"p":"f1","g":"Ro","v":0.0004},{"p":"f1","g":"Ro","v":0.0005},{"p":"f1","g":"Ro","v":0.0003},{"p":"f1","g":"Ro","v":0.0004},{"p":"f1","g":"Ro","v":0.0008},{"p":"f1","g":"Ro","v":0.0004},{"p":"f1","g":"Ro","v":0.0003},{"p":"f1","g":"Ro","v":0.0005},{"p":"f1","g":"Ro","v":0.0002},
{"p":"f2","g":"Bs","v":0.0026},{"p":"f2","g":"Bs","v":0.0005},{"p":"f2","g":"Bs","v":0.0026},{"p":"f2","g":"Bs","v":0.0004},{"p":"f2","g":"Bs","v":0.0023},{"p":"f2","g":"Bs","v":0.0006},{"p":"f2","g":"Bs","v":0.002},{"p":"f2","g":"Bs","v":0.0003},{"p":"f2","g":"Bs","v":0.0016},{"p":"f2","g":"Bs","v":0.0005},{"p":"f2","g":"Bs","v":0.0013},{"p":"f2","g":"Bs","v":0.0004},{"p":"f2","g":"Bs","v":0.0009},{"p":"f2","g":"Bs","v":0.0006},{"p":"f2","g":"Bs","v":0.0008},{"p":"f2","g":"Bs","v":0.0005},{"p":"f2","g":"Bs","v":0.0007},{"p":"f2","g":"Bs","v":0.0003},{"p":"f2","g":"Bs","v":0.0006},{"p":"f2","g":"Bs","v":0.0004},{"p":"f2","g":"Bs","v":0.0005},{"p":"f2","g":"Bs","v":0.0009},{"p":"f2","g":"Bs","v":0.0004},{"p":"f2","g":"Bs","v":0.0005},
{"p":"f2","g":"Rh","v":0.0038},{"p":"f2","g":"Rh","v":0.0005},{"p":"f2","g":"Rh","v":0.0035},{"p":"f2","g":"Rh","v":0.0004},{"p":"f2","g":"Rh","v":0.0035},{"p":"f2","g":"Rh","v":0.0006},{"p":"f2","g":"Rh","v":0.0025},{"p":"f2","g":"Rh","v":0.0003},{"p":"f2","g":"Rh","v":0.0025},{"p":"f2","g":"Rh","v":0.0005},{"p":"f2","g":"Rh","v":0.0019},{"p":"f2","g":"Rh","v":0.0008},{"p":"f2","g":"Rh","v":0.0018},{"p":"f2","g":"Rh","v":0.0004},{"p":"f2","g":"Rh","v":0.0012},{"p":"f2","g":"Rh","v":0.0006},{"p":"f2","g":"Rh","v":0.0009},{"p":"f2","g":"Rh","v":0.0003},{"p":"f2","g":"Rh","v":0.0008},{"p":"f2","g":"Rh","v":0.0005},{"p":"f2","g":"Rh","v":0.0007},{"p":"f2","g":"Rh","v":0.0004},{"p":"f2","g":"Rh","v":0.0006},{"p":"f2","g":"Rh","v":0.0009},
{"p":"f2","g":"Ro","v":0.0005},{"p":"f2","g":"Ro","v":0.0004},{"p":"f2","g":"Ro","v":0.00045},{"p":"f2","g":"Ro","v":0.0004},{"p":"f2","g":"Ro","v":0.0003},{"p":"f2","g":"Ro","v":0.0005},{"p":"f2","g":"Ro","v":0.00042},{"p":"f2","g":"Ro","v":0.00038},{"p":"f2","g":"Ro","v":0.0004},{"p":"f2","g":"Ro","v":0.00035},{"p":"f2","g":"Ro","v":0.00045},{"p":"f2","g":"Ro","v":0.0004},
{"p":"f3","g":"Bs","v":0.0042},{"p":"f3","g":"Bs","v":0.0005},{"p":"f3","g":"Bs","v":0.0042},{"p":"f3","g":"Bs","v":0.0004},{"p":"f3","g":"Bs","v":0.004},{"p":"f3","g":"Bs","v":0.0006},{"p":"f3","g":"Bs","v":0.0036},{"p":"f3","g":"Bs","v":0.0005},{"p":"f3","g":"Bs","v":0.0025},{"p":"f3","g":"Bs","v":0.0004},{"p":"f3","g":"Bs","v":0.0025},{"p":"f3","g":"Bs","v":0.0008},{"p":"f3","g":"Bs","v":0.002},{"p":"f3","g":"Bs","v":0.0005},{"p":"f3","g":"Bs","v":0.0015},{"p":"f3","g":"Bs","v":0.0012},{"p":"f3","g":"Bs","v":0.0004},{"p":"f3","g":"Bs","v":0.001},{"p":"f3","g":"Bs","v":0.0005},{"p":"f3","g":"Bs","v":0.0006},{"p":"f3","g":"Bs","v":0.0004},{"p":"f3","g":"Bs","v":0.0009},
{"p":"f3","g":"Rh","v":0.0045},{"p":"f3","g":"Rh","v":0.0006},{"p":"f3","g":"Rh","v":0.0045},{"p":"f3","g":"Rh","v":0.0005},{"p":"f3","g":"Rh","v":0.0034},{"p":"f3","g":"Rh","v":0.0007},{"p":"f3","g":"Rh","v":0.0025},{"p":"f3","g":"Rh","v":0.0004},{"p":"f3","g":"Rh","v":0.0016},{"p":"f3","g":"Rh","v":0.0006},{"p":"f3","g":"Rh","v":0.0013},{"p":"f3","g":"Rh","v":0.0005},{"p":"f3","g":"Rh","v":0.0009},{"p":"f3","g":"Rh","v":0.0007},{"p":"f3","g":"Rh","v":0.0008},{"p":"f3","g":"Rh","v":0.0004},{"p":"f3","g":"Rh","v":0.0006},{"p":"f3","g":"Rh","v":0.0005},{"p":"f3","g":"Rh","v":0.0007},{"p":"f3","g":"Rh","v":0.0009},{"p":"f3","g":"Rh","v":0.0004},{"p":"f3","g":"Rh","v":0.0006},
{"p":"f3","g":"Ro","v":0.0004},{"p":"f3","g":"Ro","v":0.0003},{"p":"f3","g":"Ro","v":0.00035},{"p":"f3","g":"Ro","v":0.00025},{"p":"f3","g":"Ro","v":0.0003},{"p":"f3","g":"Ro","v":0.0004},{"p":"f3","g":"Ro","v":0.00028},{"p":"f3","g":"Ro","v":0.0005},{"p":"f3","g":"Ro","v":0.0003},{"p":"f3","g":"Ro","v":0.00032},{"p":"f3","g":"Ro","v":0.0002},{"p":"f3","g":"Ro","v":0.00035}
],
"box":[
{"p":"a1","g":"Bs","lo":5.0e-4,"q1":6.35e-4,"md":7.87e-4,"q3":9.35e-4,"hi":1.32e-3},{"p":"a1","g":"Rh","lo":4.8e-4,"q1":7.0e-4,"md":8.3e-4,"q3":9.06e-4,"hi":1.07e-3},{"p":"a1","g":"Ro","lo":6.45e-4,"q1":8.06e-4,"md":9.19e-4,"q3":9.58e-4,"hi":9.6e-4},
{"p":"a2","g":"Bs","lo":5.0e-4,"q1":6.35e-4,"md":7.87e-4,"q3":9.35e-4,"hi":1.33e-3},{"p":"a2","g":"Rh","lo":4.8e-4,"q1":7.0e-4,"md":8.3e-4,"q3":9.06e-4,"hi":1.06e-3},{"p":"a2","g":"Ro","lo":6.45e-4,"q1":8.06e-4,"md":9.2e-4,"q3":9.58e-4,"hi":9.6e-4},
{"p":"a3","g":"Bs","lo":2.8e-4,"q1":6.4e-4,"md":7.68e-4,"q3":9.6e-4,"hi":9.7e-4},{"p":"a3","g":"Rh","lo":3.5e-4,"q1":6.5e-4,"md":8.5e-4,"q3":9.3e-4,"hi":9.7e-4},{"p":"a3","g":"Ro","lo":7.2e-4,"q1":8.3e-4,"md":9.1e-4,"q3":9.4e-4,"hi":9.7e-4},
{"p":"b1","g":"Bs","lo":3.0e-5,"q1":4.5e-5,"md":5.8e-5,"q3":1.25e-4,"hi":1.35e-4},{"p":"b1","g":"Rh","lo":3.5e-5,"q1":4.8e-5,"md":6.2e-5,"q3":1.3e-4,"hi":2.2e-4},{"p":"b1","g":"Ro","lo":5.0e-5,"q1":6.2e-5,"md":1.08e-4,"q3":1.5e-4,"hi":1.74e-4},
{"p":"b2","g":"Bs","lo":3.0e-5,"q1":3.8e-5,"md":4.7e-5,"q3":5.3e-5,"hi":8.0e-5},{"p":"b2","g":"Rh","lo":3.2e-5,"q1":4.2e-5,"md":5.3e-5,"q3":9.1e-5,"hi":1.78e-4},{"p":"b2","g":"Ro","lo":9.3e-5,"q1":9.5e-5,"md":1.06e-4,"q3":1.1e-4,"hi":1.24e-4},
{"p":"b3","g":"Bs","lo":3.0e-5,"q1":3.8e-5,"md":4.7e-5,"q3":5.4e-5,"hi":7.5e-5},{"p":"b3","g":"Rh","lo":3.5e-5,"q1":4.5e-5,"md":5.7e-5,"q3":1.16e-4,"hi":1.8e-4},{"p":"b3","g":"Ro","lo":5.0e-5,"q1":6.2e-5,"md":1.54e-4,"q3":3.1e-4,"hi":4.4e-4},
{"p":"c1","g":"Bs","lo":0.0007,"q1":0.00095,"md":0.00105,"q3":0.0012,"hi":0.0016},{"p":"c1","g":"Rh","lo":0.0008,"q1":0.001,"md":0.00118,"q3":0.0014,"hi":0.0021},{"p":"c1","g":"Ro","lo":0.0011,"q1":0.0011,"md":0.0018,"q3":0.0079,"hi":0.0098},
{"p":"c2","g":"Bs","lo":0.0006,"q1":0.0008,"md":0.001,"q3":0.0012,"hi":0.0017},{"p":"c2","g":"Rh","lo":0.0006,"q1":0.0009,"md":0.00108,"q3":0.0013,"hi":0.0019},{"p":"c2","g":"Ro","lo":0.001,"q1":0.0011,"md":0.0014,"q3":0.00496,"hi":0.0079},
{"p":"c3","g":"Bs","lo":0.0006,"q1":0.0009,"md":0.001,"q3":0.0012,"hi":0.0017},{"p":"c3","g":"Rh","lo":0.0007,"q1":0.0009,"md":0.00105,"q3":0.0012,"hi":0.0017},{"p":"c3","g":"Ro","lo":0.0013,"q1":0.0014,"md":0.0021,"q3":0.0027,"hi":0.0041},
{"p":"d1","g":"Bs","lo":0.0008,"q1":0.0026,"md":0.0049,"q3":0.0179,"hi":0.0435},{"p":"d1","g":"Rh","lo":0.0015,"q1":0.0035,"md":0.0048,"q3":0.0149,"hi":0.0312},{"p":"d1","g":"Ro","lo":0.0015,"q1":0.0027,"md":0.0033,"q3":0.0041,"hi":0.0055},
{"p":"d2","g":"Bs","lo":0.0011,"q1":0.003,"md":0.00455,"q3":0.0069,"hi":0.01065},{"p":"d2","g":"Rh","lo":0.0023,"q1":0.0031,"md":0.0041,"q3":0.00476,"hi":0.0081},{"p":"d2","g":"Ro","lo":0.0018,"q1":0.003,"md":0.0034,"q3":0.004,"hi":0.0047},
{"p":"d3","g":"Bs","lo":0.0012,"q1":0.00286,"md":0.00378,"q3":0.00462,"hi":0.00706},{"p":"d3","g":"Rh","lo":0.0012,"q1":0.00294,"md":0.0036,"q3":0.00475,"hi":0.0075},{"p":"d3","g":"Ro","lo":0.0012,"q1":0.0021,"md":0.00286,"q3":0.00328,"hi":0.0042},
{"p":"e1","g":"Bs","lo":0.0008,"q1":0.0015,"md":0.002,"q3":0.0034,"hi":0.005},{"p":"e1","g":"Rh","lo":0.0008,"q1":0.0015,"md":0.0019,"q3":0.0025,"hi":0.004},{"p":"e1","g":"Ro","lo":0.0007,"q1":0.0012,"md":0.0015,"q3":0.0019,"hi":0.0025},
{"p":"e2","g":"Bs","lo":0.0005,"q1":0.002,"md":0.0055,"q3":0.0085,"hi":0.016},{"p":"e2","g":"Rh","lo":0.0005,"q1":0.0015,"md":0.002,"q3":0.0055,"hi":0.011},{"p":"e2","g":"Ro","lo":0.0005,"q1":0.001,"md":0.0017,"q3":0.0029,"hi":0.0048},
{"p":"e3","g":"Bs","lo":0.0005,"q1":0.002,"md":0.0055,"q3":0.0085,"hi":0.0165},{"p":"e3","g":"Rh","lo":0.0005,"q1":0.0015,"md":0.002,"q3":0.0055,"hi":0.011},{"p":"e3","g":"Ro","lo":0.0005,"q1":0.001,"md":0.0017,"q3":0.0029,"hi":0.0048},
{"p":"f1","g":"Bs","lo":0.0001,"q1":0.00035,"md":0.00045,"q3":0.0011,"hi":0.002},{"p":"f1","g":"Rh","lo":0.0002,"q1":0.00052,"md":0.0007,"q3":0.0012,"hi":0.002},{"p":"f1","g":"Ro","lo":0.0001,"q1":0.0003,"md":0.0004,"q3":0.0005,"hi":0.0008},
{"p":"f2","g":"Bs","lo":0.0001,"q1":0.0003,"md":0.0005,"q3":0.0009,"hi":0.0016},{"p":"f2","g":"Rh","lo":0.0001,"q1":0.0003,"md":0.00045,"q3":0.0009,"hi":0.0018},{"p":"f2","g":"Ro","lo":0.0003,"q1":0.00035,"md":0.0004,"q3":0.00045,"hi":0.0005},
{"p":"f3","g":"Bs","lo":0.0001,"q1":0.0004,"md":0.0005,"q3":0.0012,"hi":0.002},{"p":"f3","g":"Rh","lo":0.0001,"q1":0.0004,"md":0.0006,"q3":0.0009,"hi":0.0016},{"p":"f3","g":"Ro","lo":0.0001,"q1":0.00025,"md":0.0003,"q3":0.0004,"hi":0.0005}
],
"lab":[
{"p":"a1","g":"Bs","t":"a","ly":1.21e-3},{"p":"a1","g":"Rh","t":"a","ly":1.13e-3},{"p":"a1","g":"Ro","t":"b","ly":1.08e-3},
{"p":"a2","g":"Bs","t":"a","ly":1.13e-3},{"p":"a2","g":"Rh","t":"a","ly":1.10e-3},{"p":"a2","g":"Ro","t":"b","ly":1.04e-3},
{"p":"a3","g":"Bs","t":"a","ly":1.02e-3},{"p":"a3","g":"Rh","t":"a","ly":1.0e-3},{"p":"a3","g":"Ro","t":"b","ly":1.05e-3},
{"p":"b1","g":"Bs","t":"a","ly":1.68e-4},{"p":"b1","g":"Rh","t":"a","ly":2.9e-4},{"p":"b1","g":"Ro","t":"b","ly":2.1e-4},
{"p":"b2","g":"Bs","t":"a","ly":2.64e-4},{"p":"b2","g":"Rh","t":"a","ly":3.6e-4},{"p":"b2","g":"Ro","t":"b","ly":1.56e-4},
{"p":"b3","g":"Bs","t":"a","ly":1.0e-4},{"p":"b3","g":"Rh","t":"a","ly":1.99e-4},{"p":"b3","g":"Ro","t":"b","ly":4.55e-4},
{"p":"c1","g":"Bs","t":"a","ly":0.0034},{"p":"c1","g":"Rh","t":"a","ly":0.00417},{"p":"c1","g":"Ro","t":"b","ly":0.00833},
{"p":"c2","g":"Bs","t":"a","ly":0.0034},{"p":"c2","g":"Rh","t":"a","ly":0.00333},{"p":"c2","g":"Ro","t":"b","ly":0.00844},
{"p":"c3","g":"Bs","t":"a","ly":0.00349},{"p":"c3","g":"Rh","t":"a","ly":0.00327},{"p":"c3","g":"Ro","t":"b","ly":0.0048},
{"p":"d1","g":"Bs","t":"a","ly":0.0415},{"p":"d1","g":"Rh","t":"a","ly":0.0342},{"p":"d1","g":"Ro","t":"b","ly":0.0078},
{"p":"d2","g":"Bs","t":"a","ly":0.0116},{"p":"d2","g":"Rh","t":"a","ly":0.0113},{"p":"d2","g":"Ro","t":"b","ly":0.0061},
{"p":"d3","g":"Bs","t":"a","ly":0.0119},{"p":"d3","g":"Rh","t":"a","ly":0.01},{"p":"d3","g":"Ro","t":"b","ly":0.0057},{"p":"d3","g":"Ro","t":"8","ly":0.0134},
{"p":"e1","g":"Bs","t":"a","ly":0.0059},{"p":"e1","g":"Rh","t":"a","ly":0.0052},{"p":"e1","g":"Ro","t":"b","ly":0.003},
{"p":"e2","g":"Bs","t":"a","ly":0.017},{"p":"e2","g":"Rh","t":"a","ly":0.0116},{"p":"e2","g":"Ro","t":"b","ly":0.0056},
{"p":"e3","g":"Bs","t":"a","ly":0.0168},{"p":"e3","g":"Rh","t":"a","ly":0.0118},{"p":"e3","g":"Ro","t":"b","ly":0.0058},
{"p":"f1","g":"Bs","t":"a","ly":0.0017},{"p":"f1","g":"Rh","t":"a","ly":0.0017},{"p":"f1","g":"Ro","t":"b","ly":0.0008},
{"p":"f2","g":"Bs","t":"a","ly":0.0014},{"p":"f2","g":"Rh","t":"a","ly":0.00145},{"p":"f2","g":"Ro","t":"b","ly":0.0008},
{"p":"f3","g":"Bs","t":"a","ly":0.0019},{"p":"f3","g":"Rh","t":"a","ly":0.0019},{"p":"f3","g":"Ro","t":"b","ly":0.0007}
]},
"vconcat":[
{"data":{"values":[{}]},"width":683,"height":2,"view":{"fill":"black","stroke":null},"mark":{"type":"text","fontSize":0},"encoding":{},"title":{"text":"a. Acinetobacter sp.","anchor":"middle","offset":0,"dx":0,"fontSize":16}},
{"hconcat":[
{"width":178,"height":170,"title":"a1. Alder","resolve":{"scale":{"x":"independent"},"axis":{"x":"independent","y":"independent"}},"layer":[
{"data":{"name":"box"},"transform":[{"filter":"datum.p=='a1'"}],"mark":"rule","encoding":{"x":{"field":"g","type":"nominal","title":null},"y":{"field":"lo","type":"quantitative","title":"Relative abundance (%)","scale":{"domain":[-7.7e-5,1.568e-3],"nice":false,"zero":false},"axis":{"values":[0,5e-4,1e-3,1.5e-3],"format":".4f","labelOverlap":false}},"y2":{"field":"hi"}}},
{"data":{"name":"box"},"transform":[{"filter":"datum.p=='a1'"}],"mark":{"type":"bar","width":{"band":1}},"encoding":{"x":{"field":"g","type":"nominal","axis":null},"y":{"field":"q1","type":"quantitative","axis":null},"y2":{"field":"q3"}}},
{"data":{"name":"box"},"transform":[{"filter":"datum.p=='a1'"}],"mark":"tick","encoding":{"x":{"field":"g","type":"nominal","axis":null},"y":{"field":"md","type":"quantitative","axis":null}}},
{"data":{"name":"pts"},"transform":[{"filter":"datum.p=='a1'"},{"window":[{"op":"row_number","as":"rn"}],"groupby":["g"]}],"mark":"circle","encoding":{"x":{"field":"g","type":"nominal","axis":null,"scale":{"paddingInner":0.4,"paddingOuter":0.3}},"xOffset":{"field":"rn","type":"quantitative","scale":{"domain":[1,2,3,4,5,6,7,8,9,10,11,12,13,14,15,16,17,18,19,20,21,22,23,24,25,26,27,28,29,30],"range":[6.7,17.5,11.2,22,4,28.3,14.8,24.7,9.4,20.2,13,26.5,5.8,21.1,15.7,29.2,8.5,23.8,12.1,18.4,30,4.9,25.6,16.6,10.3,27.4,19.3,7.6,22.9,13.9],"nice":false,"zero":false}},"y":{"field":"v","type":"quantitative","axis":null}}},
{"data":{"name":"lab"},"transform":[{"filter":"datum.p=='a1'"}],"mark":{"type":"text","font":"Lato","fontSize":17,"baseline":"middle"},"encoding":{"x":{"field":"g","type":"nominal","axis":null},"y":{"field":"ly","type":"quantitative","axis":null},"text":{"field":"t"}}}]},
{"width":179,"height":170,"title":"a2. Birch","resolve":{"scale":{"x":"independent"},"axis":{"x":"independent","y":"independent"}},"layer":[
{"data":{"name":"box"},"transform":[{"filter":"datum.p=='a2'"}],"mark":"rule","encoding":{"x":{"field":"g","type":"nominal","title":null},"y":{"field":"lo","type":"quantitative","title":"Relative abundance (%)","scale":{"domain":[-7.7e-5,1.568e-3],"nice":false,"zero":false},"axis":{"values":[0,5e-4,1e-3,1.5e-3],"format":".4f","labelOverlap":false}},"y2":{"field":"hi"}}},
{"data":{"name":"box"},"transform":[{"filter":"datum.p=='a2'"}],"mark":{"type":"bar","width":{"band":1}},"encoding":{"x":{"field":"g","type":"nominal","axis":null},"y":{"field":"q1","type":"quantitative","axis":null},"y2":{"field":"q3"}}},
{"data":{"name":"box"},"transform":[{"filter":"datum.p=='a2'"}],"mark":"tick","encoding":{"x":{"field":"g","type":"nominal","axis":null},"y":{"field":"md","type":"quantitative","axis":null}}},
{"data":{"name":"pts"},"transform":[{"filter":"datum.p=='a2'"},{"window":[{"op":"row_number","as":"rn"}],"groupby":["g"]}],"mark":"circle","encoding":{"x":{"field":"g","type":"nominal","axis":null,"scale":{"paddingInner":0.4,"paddingOuter":0.3}},"xOffset":{"field":"rn","type":"quantitative","scale":{"domain":[1,2,3,4,5,6,7,8,9,10,11,12,13,14,15,16,17,18,19,20,21,22,23,24,25,26,27,28,29,30],"range":[6.7,17.5,11.2,22,4,28.3,14.8,24.7,9.4,20.2,13,26.5,5.8,21.1,15.7,29.2,8.5,23.8,12.1,18.4,30,4.9,25.6,16.6,10.3,27.4,19.3,7.6,22.9,13.9],"nice":false,"zero":false}},"y":{"field":"v","type":"quantitative","axis":null}}},
{"data":{"name":"lab"},"transform":[{"filter":"datum.p=='a2'"}],"mark":{"type":"text","font":"Lato","fontSize":17,"baseline":"middle"},"encoding":{"x":{"field":"g","type":"nominal","axis":null},"y":{"field":"ly","type":"quantitative","axis":null},"text":{"field":"t"}}}]},
{"width":187,"height":170,"title":"a3. Spruce","resolve":{"scale":{"x":"independent"},"axis":{"x":"independent","y":"independent"}},"layer":[
{"data":{"name":"box"},"transform":[{"filter":"datum.p=='a3'"}],"mark":"rule","encoding":{"x":{"field":"g","type":"nominal","title":null},"y":{"field":"lo","type":"quantitative","title":"Relative abundance (%)","scale":{"domain":[-7.7e-5,1.568e-3],"nice":false,"zero":false},"axis":{"values":[0,5e-4,1e-3,1.5e-3],"format":".4f","labelOverlap":false}},"y2":{"field":"hi"}}},
{"data":{"name":"box"},"transform":[{"filter":"datum.p=='a3'"}],"mark":{"type":"bar","width":{"band":1}},"encoding":{"x":{"field":"g","type":"nominal","axis":null},"y":{"field":"q1","type":"quantitative","axis":null},"y2":{"field":"q3"}}},
{"data":{"name":"box"},"transform":[{"filter":"datum.p=='a3'"}],"mark":"tick","encoding":{"x":{"field":"g","type":"nominal","axis":null},"y":{"field":"md","type":"quantitative","axis":null}}},
{"data":{"name":"pts"},"transform":[{"filter":"datum.p=='a3'"},{"window":[{"op":"row_number","as":"rn"}],"groupby":["g"]}],"mark":"circle","encoding":{"x":{"field":"g","type":"nominal","axis":null,"scale":{"paddingInner":0.4,"paddingOuter":0.3}},"xOffset":{"field":"rn","type":"quantitative","scale":{"domain":[1,2,3,4,5,6,7,8,9,10,11,12,13,14,15,16,17,18,19,20,21,22,23,24,25,26,27,28,29,30],"range":[6.7,17.5,11.2,22,4,28.3,14.8,24.7,9.4,20.2,13,26.5,5.8,21.1,15.7,29.2,8.5,23.8,12.1,18.4,30,4.9,25.6,16.6,10.3,27.4,19.3,7.6,22.9,13.9],"nice":false,"zero":false}},"y":{"field":"v","type":"quantitative","axis":null}}},
{"data":{"name":"lab"},"transform":[{"filter":"datum.p=='a3'"}],"mark":{"type":"text","font":"Lato","fontSize":17,"baseline":"middle"},"encoding":{"x":{"field":"g","type":"nominal","axis":null},"y":{"field":"ly","type":"quantitative","axis":null},"text":{"field":"t"}}}]}
],"spacing":2},
{"data":{"values":[{}]},"width":683,"height":2,"view":{"fill":"black","stroke":null},"mark":{"type":"text","fontSize":0},"encoding":{},"title":{"text":"b. Delftia sp.","anchor":"middle","offset":0,"dx":0,"fontSize":16}},
{"hconcat":[
{"width":181,"height":168,"title":"b1. Alder","resolve":{"scale":{"x":"independent"},"axis":{"x":"independent","y":"independent"}},"layer":[
{"data":{"name":"box"},"transform":[{"filter":"datum.p=='b1'"}],"mark":"rule","encoding":{"x":{"field":"g","type":"nominal","title":null},"y":{"field":"lo","type":"quantitative","title":"Relative abundance (%)","scale":{"domain":[-1.9e-5,5.16e-4],"nice":false,"zero":false},"axis":{"values":[0,1e-4,2e-4,3e-4,4e-4,5e-4],"labelOverlap":false,"labelExpr":"replace(replace(format(datum.value,'.0e'),'e-','e-0'),'e+','e+0')"}},"y2":{"field":"hi"}}},
{"data":{"name":"box"},"transform":[{"filter":"datum.p=='b1'"}],"mark":{"type":"bar","width":{"band":1}},"encoding":{"x":{"field":"g","type":"nominal","axis":null},"y":{"field":"q1","type":"quantitative","axis":null},"y2":{"field":"q3"}}},
{"data":{"name":"box"},"transform":[{"filter":"datum.p=='b1'"}],"mark":"tick","encoding":{"x":{"field":"g","type":"nominal","axis":null},"y":{"field":"md","type":"quantitative","axis":null}}},
{"data":{"name":"pts"},"transform":[{"filter":"datum.p=='b1'"},{"window":[{"op":"row_number","as":"rn"}],"groupby":["g"]}],"mark":"circle","encoding":{"x":{"field":"g","type":"nominal","axis":null,"scale":{"paddingInner":0.4,"paddingOuter":0.3}},"xOffset":{"field":"rn","type":"quantitative","scale":{"domain":[1,2,3,4,5,6,7,8,9,10,11,12,13,14,15,16,17,18,19,20,21,22,23,24,25,26,27,28,29,30],"range":[6.7,17.5,11.2,22,4,28.3,14.8,24.7,9.4,20.2,13,26.5,5.8,21.1,15.7,29.2,8.5,23.8,12.1,18.4,30,4.9,25.6,16.6,10.3,27.4,19.3,7.6,22.9,13.9],"nice":false,"zero":false}},"y":{"field":"v","type":"quantitative","axis":null}}},
{"data":{"name":"lab"},"transform":[{"filter":"datum.p=='b1'"}],"mark":{"type":"text","font":"Lato","fontSize":17,"baseline":"middle"},"encoding":{"x":{"field":"g","type":"nominal","axis":null},"y":{"field":"ly","type":"quantitative","axis":null},"text":{"field":"t"}}}]},
{"width":178,"height":168,"title":"b2. Birch","resolve":{"scale":{"x":"independent"},"axis":{"x":"independent","y":"independent"}},"layer":[
{"data":{"name":"box"},"transform":[{"filter":"datum.p=='b2'"}],"mark":"rule","encoding":{"x":{"field":"g","type":"nominal","title":null},"y":{"field":"lo","type":"quantitative","title":"Relative abundance (%)","scale":{"domain":[-1.9e-5,5.16e-4],"nice":false,"zero":false},"axis":{"values":[0,1e-4,2e-4,3e-4,4e-4,5e-4],"labelOverlap":false,"labelExpr":"replace(replace(format(datum.value,'.0e'),'e-','e-0'),'e+','e+0')"}},"y2":{"field":"hi"}}},
{"data":{"name":"box"},"transform":[{"filter":"datum.p=='b2'"}],"mark":{"type":"bar","width":{"band":1}},"encoding":{"x":{"field":"g","type":"nominal","axis":null},"y":{"field":"q1","type":"quantitative","axis":null},"y2":{"field":"q3"}}},
{"data":{"name":"box"},"transform":[{"filter":"datum.p=='b2'"}],"mark":"tick","encoding":{"x":{"field":"g","type":"nominal","axis":null},"y":{"field":"md","type":"quantitative","axis":null}}},
{"data":{"name":"pts"},"transform":[{"filter":"datum.p=='b2'"},{"window":[{"op":"row_number","as":"rn"}],"groupby":["g"]}],"mark":"circle","encoding":{"x":{"field":"g","type":"nominal","axis":null,"scale":{"paddingInner":0.4,"paddingOuter":0.3}},"xOffset":{"field":"rn","type":"quantitative","scale":{"domain":[1,2,3,4,5,6,7,8,9,10,11,12,13,14,15,16,17,18,19,20,21,22,23,24,25,26,27,28,29,30],"range":[6.7,17.5,11.2,22,4,28.3,14.8,24.7,9.4,20.2,13,26.5,5.8,21.1,15.7,29.2,8.5,23.8,12.1,18.4,30,4.9,25.6,16.6,10.3,27.4,19.3,7.6,22.9,13.9],"nice":false,"zero":false}},"y":{"field":"v","type":"quantitative","axis":null}}},
{"data":{"name":"lab"},"transform":[{"filter":"datum.p=='b2'"}],"mark":{"type":"text","font":"Lato","fontSize":17,"baseline":"middle"},"encoding":{"x":{"field":"g","type":"nominal","axis":null},"y":{"field":"ly","type":"quantitative","axis":null},"text":{"field":"t"}}}]},
{"width":171,"height":168,"title":"b3. Spruce","resolve":{"scale":{"x":"independent"},"axis":{"x":"independent","y":"independent"}},"layer":[
{"data":{"name":"box"},"transform":[{"filter":"datum.p=='b3'"}],"mark":"rule","encoding":{"x":{"field":"g","type":"nominal","title":null},"y":{"field":"lo","type":"quantitative","title":"Relative abundance (%)","scale":{"domain":[-1.9e-5,5.16e-4],"nice":false,"zero":false},"axis":{"values":[0,1e-4,2e-4,3e-4,4e-4,5e-4],"labelOverlap":false,"labelExpr":"replace(replace(format(datum.value,'.0e'),'e-','e-0'),'e+','e+0')"}},"y2":{"field":"hi"}}},
{"data":{"name":"box"},"transform":[{"filter":"datum.p=='b3'"}],"mark":{"type":"bar","width":{"band":1}},"encoding":{"x":{"field":"g","type":"nominal","axis":null},"y":{"field":"q1","type":"quantitative","axis":null},"y2":{"field":"q3"}}},
{"data":{"name":"box"},"transform":[{"filter":"datum.p=='b3'"}],"mark":"tick","encoding":{"x":{"field":"g","type":"nominal","axis":null},"y":{"field":"md","type":"quantitative","axis":null}}},
{"data":{"name":"pts"},"transform":[{"filter":"datum.p=='b3'"},{"window":[{"op":"row_number","as":"rn"}],"groupby":["g"]}],"mark":"circle","encoding":{"x":{"field":"g","type":"nominal","axis":null,"scale":{"paddingInner":0.4,"paddingOuter":0.3}},"xOffset":{"field":"rn","type":"quantitative","scale":{"domain":[1,2,3,4,5,6,7,8,9,10,11,12,13,14,15,16,17,18,19,20,21,22,23,24,25,26,27,28,29,30],"range":[6.7,17.5,11.2,22,4,28.3,14.8,24.7,9.4,20.2,13,26.5,5.8,21.1,15.7,29.2,8.5,23.8,12.1,18.4,30,4.9,25.6,16.6,10.3,27.4,19.3,7.6,22.9,13.9],"nice":false,"zero":false}},"y":{"field":"v","type":"quantitative","axis":null}}},
{"data":{"name":"lab"},"transform":[{"filter":"datum.p=='b3'"}],"mark":{"type":"text","font":"Lato","fontSize":17,"baseline":"middle"},"encoding":{"x":{"field":"g","type":"nominal","axis":null},"y":{"field":"ly","type":"quantitative","axis":null},"text":{"field":"t"}}}]}
],"spacing":10},
{"data":{"values":[{}]},"width":1,"height":3,"view":{"stroke":null},"mark":{"type":"text","fontSize":0},"encoding":{}},
{"data":{"values":[{}]},"width":683,"height":2,"view":{"fill":"black","stroke":null},"mark":{"type":"text","fontSize":0},"encoding":{},"title":{"text":"c. Pseudomonas sp.","anchor":"middle","offset":0,"dx":0,"fontSize":16}},
{"hconcat":[
{"width":178,"height":170,"title":"c1. Alder","resolve":{"scale":{"x":"independent"},"axis":{"x":"independent","y":"independent"}},"layer":[
{"data":{"name":"box"},"transform":[{"filter":"datum.p=='c1'"}],"mark":"rule","encoding":{"x":{"field":"g","type":"nominal","title":null},"y":{"field":"lo","type":"quantitative","title":"Relative abundance (%)","scale":{"domain":[-4.4e-4,1.019e-2],"nice":false,"zero":false},"axis":{"values":[0,0.0025,0.005,0.0075,0.01],"format":".4f","labelOverlap":false}},"y2":{"field":"hi"}}},
{"data":{"name":"box"},"transform":[{"filter":"datum.p=='c1'"}],"mark":{"type":"bar","width":{"band":1}},"encoding":{"x":{"field":"g","type":"nominal","axis":null},"y":{"field":"q1","type":"quantitative","axis":null},"y2":{"field":"q3"}}},
{"data":{"name":"box"},"transform":[{"filter":"datum.p=='c1'"}],"mark":"tick","encoding":{"x":{"field":"g","type":"nominal","axis":null},"y":{"field":"md","type":"quantitative","axis":null}}},
{"data":{"name":"pts"},"transform":[{"filter":"datum.p=='c1'"},{"window":[{"op":"row_number","as":"rn"}],"groupby":["g"]}],"mark":"circle","encoding":{"x":{"field":"g","type":"nominal","axis":null,"scale":{"paddingInner":0.4,"paddingOuter":0.3}},"xOffset":{"field":"rn","type":"quantitative","scale":{"domain":[1,2,3,4,5,6,7,8,9,10,11,12,13,14,15,16,17,18,19,20,21,22,23,24,25,26,27,28,29,30],"range":[6.7,17.5,11.2,22,4,28.3,14.8,24.7,9.4,20.2,13,26.5,5.8,21.1,15.7,29.2,8.5,23.8,12.1,18.4,30,4.9,25.6,16.6,10.3,27.4,19.3,7.6,22.9,13.9],"nice":false,"zero":false}},"y":{"field":"v","type":"quantitative","axis":null}}},
{"data":{"name":"lab"},"transform":[{"filter":"datum.p=='c1'"}],"mark":{"type":"text","font":"Lato","fontSize":17,"baseline":"middle"},"encoding":{"x":{"field":"g","type":"nominal","axis":null},"y":{"field":"ly","type":"quantitative","axis":null},"text":{"field":"t"}}}]},
{"width":179,"height":170,"title":"c2. Birch","resolve":{"scale":{"x":"independent"},"axis":{"x":"independent","y":"independent"}},"layer":[
{"data":{"name":"box"},"transform":[{"filter":"datum.p=='c2'"}],"mark":"rule","encoding":{"x":{"field":"g","type":"nominal","title":null},"y":{"field":"lo","type":"quantitative","title":"Relative abundance (%)","scale":{"domain":[-4.4e-4,1.019e-2],"nice":false,"zero":false},"axis":{"values":[0,0.0025,0.005,0.0075,0.01],"format":".4f","labelOverlap":false}},"y2":{"field":"hi"}}},
{"data":{"name":"box"},"transform":[{"filter":"datum.p=='c2'"}],"mark":{"type":"bar","width":{"band":1}},"encoding":{"x":{"field":"g","type":"nominal","axis":null},"y":{"field":"q1","type":"quantitative","axis":null},"y2":{"field":"q3"}}},
{"data":{"name":"box"},"transform":[{"filter":"datum.p=='c2'"}],"mark":"tick","encoding":{"x":{"field":"g","type":"nominal","axis":null},"y":{"field":"md","type":"quantitative","axis":null}}},
{"data":{"name":"pts"},"transform":[{"filter":"datum.p=='c2'"},{"window":[{"op":"row_number","as":"rn"}],"groupby":["g"]}],"mark":"circle","encoding":{"x":{"field":"g","type":"nominal","axis":null,"scale":{"paddingInner":0.4,"paddingOuter":0.3}},"xOffset":{"field":"rn","type":"quantitative","scale":{"domain":[1,2,3,4,5,6,7,8,9,10,11,12,13,14,15,16,17,18,19,20,21,22,23,24,25,26,27,28,29,30],"range":[6.7,17.5,11.2,22,4,28.3,14.8,24.7,9.4,20.2,13,26.5,5.8,21.1,15.7,29.2,8.5,23.8,12.1,18.4,30,4.9,25.6,16.6,10.3,27.4,19.3,7.6,22.9,13.9],"nice":false,"zero":false}},"y":{"field":"v","type":"quantitative","axis":null}}},
{"data":{"name":"lab"},"transform":[{"filter":"datum.p=='c2'"}],"mark":{"type":"text","font":"Lato","fontSize":17,"baseline":"middle"},"encoding":{"x":{"field":"g","type":"nominal","axis":null},"y":{"field":"ly","type":"quantitative","axis":null},"text":{"field":"t"}}}]},
{"width":179,"height":170,"title":"c3. Spruce","resolve":{"scale":{"x":"independent"},"axis":{"x":"independent","y":"independent"}},"layer":[
{"data":{"name":"box"},"transform":[{"filter":"datum.p=='c3'"}],"mark":"rule","encoding":{"x":{"field":"g","type":"nominal","title":null},"y":{"field":"lo","type":"quantitative","title":"Relative abundance (%)","scale":{"domain":[-4.4e-4,1.019e-2],"nice":false,"zero":false},"axis":{"values":[0,0.0025,0.005,0.0075,0.01],"format":".4f","labelOverlap":false}},"y2":{"field":"hi"}}},
{"data":{"name":"box"},"transform":[{"filter":"datum.p=='c3'"}],"mark":{"type":"bar","width":{"band":1}},"encoding":{"x":{"field":"g","type":"nominal","axis":null},"y":{"field":"q1","type":"quantitative","axis":null},"y2":{"field":"q3"}}},
{"data":{"name":"box"},"transform":[{"filter":"datum.p=='c3'"}],"mark":"tick","encoding":{"x":{"field":"g","type":"nominal","axis":null},"y":{"field":"md","type":"quantitative","axis":null}}},
{"data":{"name":"pts"},"transform":[{"filter":"datum.p=='c3'"},{"window":[{"op":"row_number","as":"rn"}],"groupby":["g"]}],"mark":"circle","encoding":{"x":{"field":"g","type":"nominal","axis":null,"scale":{"paddingInner":0.4,"paddingOuter":0.3}},"xOffset":{"field":"rn","type":"quantitative","scale":{"domain":[1,2,3,4,5,6,7,8,9,10,11,12,13,14,15,16,17,18,19,20,21,22,23,24,25,26,27,28,29,30],"range":[6.7,17.5,11.2,22,4,28.3,14.8,24.7,9.4,20.2,13,26.5,5.8,21.1,15.7,29.2,8.5,23.8,12.1,18.4,30,4.9,25.6,16.6,10.3,27.4,19.3,7.6,22.9,13.9],"nice":false,"zero":false}},"y":{"field":"v","type":"quantitative","axis":null}}},
{"data":{"name":"lab"},"transform":[{"filter":"datum.p=='c3'"}],"mark":{"type":"text","font":"Lato","fontSize":17,"baseline":"middle"},"encoding":{"x":{"field":"g","type":"nominal","axis":null},"y":{"field":"ly","type":"quantitative","axis":null},"text":{"field":"t"}}}]}
],"spacing":2},
{"data":{"values":[{}]},"width":1,"height":29,"view":{"stroke":null},"mark":{"type":"text","fontSize":0},"encoding":{}},
{"data":{"values":[{}]},"width":683,"height":2,"view":{"fill":"black","stroke":null},"mark":{"type":"text","fontSize":0},"encoding":{},"title":{"text":"d. Claussenomyces sp.","anchor":"middle","offset":0,"dx":0,"fontSize":16}},
{"hconcat":[
{"width":187,"height":170,"title":"d1. Alder","resolve":{"scale":{"x":"independent"},"axis":{"x":"independent","y":"independent"}},"layer":[
{"data":{"name":"box"},"transform":[{"filter":"datum.p=='d1'"}],"mark":"rule","encoding":{"x":{"field":"g","type":"nominal","title":null},"y":{"field":"lo","type":"quantitative","title":"Relative abundance (%)","scale":{"domain":[-0.0025,0.0516],"nice":false,"zero":false},"axis":{"values":[0,0.01,0.02,0.03,0.04,0.05],"format":".2f","labelOverlap":false}},"y2":{"field":"hi"}}},
{"data":{"name":"box"},"transform":[{"filter":"datum.p=='d1'"}],"mark":{"type":"bar","width":{"band":1}},"encoding":{"x":{"field":"g","type":"nominal","axis":null},"y":{"field":"q1","type":"quantitative","axis":null},"y2":{"field":"q3"}}},
{"data":{"name":"box"},"transform":[{"filter":"datum.p=='d1'"}],"mark":"tick","encoding":{"x":{"field":"g","type":"nominal","axis":null},"y":{"field":"md","type":"quantitative","axis":null}}},
{"data":{"name":"pts"},"transform":[{"filter":"datum.p=='d1'"},{"window":[{"op":"row_number","as":"rn"}],"groupby":["g"]}],"mark":"circle","encoding":{"x":{"field":"g","type":"nominal","axis":null,"scale":{"paddingInner":0.4,"paddingOuter":0.3}},"xOffset":{"field":"rn","type":"quantitative","scale":{"domain":[1,2,3,4,5,6,7,8,9,10,11,12,13,14,15,16,17,18,19,20,21,22,23,24,25,26,27,28,29,30],"range":[6.7,17.5,11.2,22,4,28.3,14.8,24.7,9.4,20.2,13,26.5,5.8,21.1,15.7,29.2,8.5,23.8,12.1,18.4,30,4.9,25.6,16.6,10.3,27.4,19.3,7.6,22.9,13.9],"nice":false,"zero":false}},"y":{"field":"v","type":"quantitative","axis":null}}},
{"data":{"name":"lab"},"transform":[{"filter":"datum.p=='d1'"}],"mark":{"type":"text","font":"Lato","fontSize":17,"baseline":"middle"},"encoding":{"x":{"field":"g","type":"nominal","axis":null},"y":{"field":"ly","type":"quantitative","axis":null},"text":{"field":"t"}}}]},
{"width":189,"height":170,"title":"d2. Birch","resolve":{"scale":{"x":"independent"},"axis":{"x":"independent","y":"independent"}},"layer":[
{"data":{"name":"box"},"transform":[{"filter":"datum.p=='d2'"}],"mark":"rule","encoding":{"x":{"field":"g","type":"nominal","title":null},"y":{"field":"lo","type":"quantitative","title":"Relative abundance (%)","scale":{"domain":[-0.001,0.02063],"nice":false,"zero":false},"axis":{"values":[0,0.005,0.01,0.015,0.02],"format":".3f","labelOverlap":false}},"y2":{"field":"hi"}}},
{"data":{"name":"box"},"transform":[{"filter":"datum.p=='d2'"}],"mark":{"type":"bar","width":{"band":1}},"encoding":{"x":{"field":"g","type":"nominal","axis":null},"y":{"field":"q1","type":"quantitative","axis":null},"y2":{"field":"q3"}}},
{"data":{"name":"box"},"transform":[{"filter":"datum.p=='d2'"}],"mark":"tick","encoding":{"x":{"field":"g","type":"nominal","axis":null},"y":{"field":"md","type":"quantitative","axis":null}}},
{"data":{"name":"pts"},"transform":[{"filter":"datum.p=='d2'"},{"window":[{"op":"row_number","as":"rn"}],"groupby":["g"]}],"mark":"circle","encoding":{"x":{"field":"g","type":"nominal","axis":null,"scale":{"paddingInner":0.4,"paddingOuter":0.3}},"xOffset":{"field":"rn","type":"quantitative","scale":{"domain":[1,2,3,4,5,6,7,8,9,10,11,12,13,14,15,16,17,18,19,20,21,22,23,24,25,26,27,28,29,30],"range":[6.7,17.5,11.2,22,4,28.3,14.8,24.7,9.4,20.2,13,26.5,5.8,21.1,15.7,29.2,8.5,23.8,12.1,18.4,30,4.9,25.6,16.6,10.3,27.4,19.3,7.6,22.9,13.9],"nice":false,"zero":false}},"y":{"field":"v","type":"quantitative","axis":null}}},
{"data":{"name":"lab"},"transform":[{"filter":"datum.p=='d2'"}],"mark":{"type":"text","font":"Lato","fontSize":17,"baseline":"middle"},"encoding":{"x":{"field":"g","type":"nominal","axis":null},"y":{"field":"ly","type":"quantitative","axis":null},"text":{"field":"t"}}}]},
{"width":184,"height":170,"title":"d3. Spruce","resolve":{"scale":{"x":"independent"},"axis":{"x":"independent","y":"independent"}},"layer":[
{"data":{"name":"box"},"transform":[{"filter":"datum.p=='d3'"}],"mark":"rule","encoding":{"x":{"field":"g","type":"nominal","title":null},"y":{"field":"lo","type":"quantitative","title":"Relative abundance (%)","scale":{"domain":[-0.001,0.02063],"nice":false,"zero":false},"axis":{"values":[0,0.005,0.01,0.015,0.02],"format":".3f","labelOverlap":false}},"y2":{"field":"hi"}}},
{"data":{"name":"box"},"transform":[{"filter":"datum.p=='d3'"}],"mark":{"type":"bar","width":{"band":1}},"encoding":{"x":{"field":"g","type":"nominal","axis":null},"y":{"field":"q1","type":"quantitative","axis":null},"y2":{"field":"q3"}}},
{"data":{"name":"box"},"transform":[{"filter":"datum.p=='d3'"}],"mark":"tick","encoding":{"x":{"field":"g","type":"nominal","axis":null},"y":{"field":"md","type":"quantitative","axis":null}}},
{"data":{"name":"pts"},"transform":[{"filter":"datum.p=='d3'"},{"window":[{"op":"row_number","as":"rn"}],"groupby":["g"]}],"mark":"circle","encoding":{"x":{"field":"g","type":"nominal","axis":null,"scale":{"paddingInner":0.4,"paddingOuter":0.3}},"xOffset":{"field":"rn","type":"quantitative","scale":{"domain":[1,2,3,4,5,6,7,8,9,10,11,12,13,14,15,16,17,18,19,20,21,22,23,24,25,26,27,28,29,30],"range":[6.7,17.5,11.2,22,4,28.3,14.8,24.7,9.4,20.2,13,26.5,5.8,21.1,15.7,29.2,8.5,23.8,12.1,18.4,30,4.9,25.6,16.6,10.3,27.4,19.3,7.6,22.9,13.9],"nice":false,"zero":false}},"y":{"field":"v","type":"quantitative","axis":null}}},
{"data":{"name":"lab"},"transform":[{"filter":"datum.p=='d3'"}],"mark":{"type":"text","font":"Lato","fontSize":17,"baseline":"middle"},"encoding":{"x":{"field":"g","type":"nominal","axis":null},"y":{"field":"ly","type":"quantitative","axis":null},"text":{"field":"t"}}}]}
],"spacing":2},
{"data":{"values":[{}]},"width":683,"height":2,"view":{"fill":"black","stroke":null},"mark":{"type":"text","fontSize":0},"encoding":{},"title":{"text":"e. Eupenicillium sp.","anchor":"middle","offset":0,"dx":0,"fontSize":16}},
{"hconcat":[
{"width":179,"height":169,"title":"e1. Alder","resolve":{"scale":{"x":"independent"},"axis":{"x":"independent","y":"independent"}},"layer":[
{"data":{"name":"box"},"transform":[{"filter":"datum.p=='e1'"}],"mark":"rule","encoding":{"x":{"field":"g","type":"nominal","title":null},"y":{"field":"lo","type":"quantitative","title":"Relative abundance (%)","scale":{"domain":[-5.3e-4,0.0108],"nice":false,"zero":false},"axis":{"values":[0,0.0025,0.005,0.0075,0.01],"format":".4f","labelOverlap":false}},"y2":{"field":"hi"}}},
{"data":{"name":"box"},"transform":[{"filter":"datum.p=='e1'"}],"mark":{"type":"bar","width":{"band":1}},"encoding":{"x":{"field":"g","type":"nominal","axis":null},"y":{"field":"q1","type":"quantitative","axis":null},"y2":{"field":"q3"}}},
{"data":{"name":"box"},"transform":[{"filter":"datum.p=='e1'"}],"mark":"tick","encoding":{"x":{"field":"g","type":"nominal","axis":null},"y":{"field":"md","type":"quantitative","axis":null}}},
{"data":{"name":"pts"},"transform":[{"filter":"datum.p=='e1'"},{"window":[{"op":"row_number","as":"rn"}],"groupby":["g"]}],"mark":"circle","encoding":{"x":{"field":"g","type":"nominal","axis":null,"scale":{"paddingInner":0.4,"paddingOuter":0.3}},"xOffset":{"field":"rn","type":"quantitative","scale":{"domain":[1,2,3,4,5,6,7,8,9,10,11,12,13,14,15,16,17,18,19,20,21,22,23,24,25,26,27,28,29,30],"range":[6.7,17.5,11.2,22,4,28.3,14.8,24.7,9.4,20.2,13,26.5,5.8,21.1,15.7,29.2,8.5,23.8,12.1,18.4,30,4.9,25.6,16.6,10.3,27.4,19.3,7.6,22.9,13.9],"nice":false,"zero":false}},"y":{"field":"v","type":"quantitative","axis":null}}},
{"data":{"name":"lab"},"transform":[{"filter":"datum.p=='e1'"}],"mark":{"type":"text","font":"Lato","fontSize":17,"baseline":"middle"},"encoding":{"x":{"field":"g","type":"nominal","axis":null},"y":{"field":"ly","type":"quantitative","axis":null},"text":{"field":"t"}}}]},
{"width":185,"height":169,"title":"e2. Birch","resolve":{"scale":{"x":"independent"},"axis":{"x":"independent","y":"independent"}},"layer":[
{"data":{"name":"box"},"transform":[{"filter":"datum.p=='e2'"}],"mark":"rule","encoding":{"x":{"field":"g","type":"nominal","title":null},"y":{"field":"lo","type":"quantitative","title":"Relative abundance (%)","scale":{"domain":[-0.00107,0.0216],"nice":false,"zero":false},"axis":{"values":[0,0.005,0.01,0.015,0.02],"format":".3f","labelOverlap":false}},"y2":{"field":"hi"}}},
{"data":{"name":"box"},"transform":[{"filter":"datum.p=='e2'"}],"mark":{"type":"bar","width":{"band":1}},"encoding":{"x":{"field":"g","type":"nominal","axis":null},"y":{"field":"q1","type":"quantitative","axis":null},"y2":{"field":"q3"}}},
{"data":{"name":"box"},"transform":[{"filter":"datum.p=='e2'"}],"mark":"tick","encoding":{"x":{"field":"g","type":"nominal","axis":null},"y":{"field":"md","type":"quantitative","axis":null}}},
{"data":{"name":"pts"},"transform":[{"filter":"datum.p=='e2'"},{"window":[{"op":"row_number","as":"rn"}],"groupby":["g"]}],"mark":"circle","encoding":{"x":{"field":"g","type":"nominal","axis":null,"scale":{"paddingInner":0.4,"paddingOuter":0.3}},"xOffset":{"field":"rn","type":"quantitative","scale":{"domain":[1,2,3,4,5,6,7,8,9,10,11,12,13,14,15,16,17,18,19,20,21,22,23,24,25,26,27,28,29,30],"range":[6.7,17.5,11.2,22,4,28.3,14.8,24.7,9.4,20.2,13,26.5,5.8,21.1,15.7,29.2,8.5,23.8,12.1,18.4,30,4.9,25.6,16.6,10.3,27.4,19.3,7.6,22.9,13.9],"nice":false,"zero":false}},"y":{"field":"v","type":"quantitative","axis":null}}},
{"data":{"name":"lab"},"transform":[{"filter":"datum.p=='e2'"}],"mark":{"type":"text","font":"Lato","fontSize":17,"baseline":"middle"},"encoding":{"x":{"field":"g","type":"nominal","axis":null},"y":{"field":"ly","type":"quantitative","axis":null},"text":{"field":"t"}}}]},
{"width":186,"height":169,"title":"e3. Spruce","resolve":{"scale":{"x":"independent"},"axis":{"x":"independent","y":"independent"}},"layer":[
{"data":{"name":"box"},"transform":[{"filter":"datum.p=='e3'"}],"mark":"rule","encoding":{"x":{"field":"g","type":"nominal","title":null},"y":{"field":"lo","type":"quantitative","title":"Relative abundance (%)","scale":{"domain":[-0.00107,0.0216],"nice":false,"zero":false},"axis":{"values":[0,0.005,0.01,0.015,0.02],"format":".3f","labelOverlap":false}},"y2":{"field":"hi"}}},
{"data":{"name":"box"},"transform":[{"filter":"datum.p=='e3'"}],"mark":{"type":"bar","width":{"band":1}},"encoding":{"x":{"field":"g","type":"nominal","axis":null},"y":{"field":"q1","type":"quantitative","axis":null},"y2":{"field":"q3"}}},
{"data":{"name":"box"},"transform":[{"filter":"datum.p=='e3'"}],"mark":"tick","encoding":{"x":{"field":"g","type":"nominal","axis":null},"y":{"field":"md","type":"quantitative","axis":null}}},
{"data":{"name":"pts"},"transform":[{"filter":"datum.p=='e3'"},{"window":[{"op":"row_number","as":"rn"}],"groupby":["g"]}],"mark":"circle","encoding":{"x":{"field":"g","type":"nominal","axis":null,"scale":{"paddingInner":0.4,"paddingOuter":0.3}},"xOffset":{"field":"rn","type":"quantitative","scale":{"domain":[1,2,3,4,5,6,7,8,9,10,11,12,13,14,15,16,17,18,19,20,21,22,23,24,25,26,27,28,29,30],"range":[6.7,17.5,11.2,22,4,28.3,14.8,24.7,9.4,20.2,13,26.5,5.8,21.1,15.7,29.2,8.5,23.8,12.1,18.4,30,4.9,25.6,16.6,10.3,27.4,19.3,7.6,22.9,13.9],"nice":false,"zero":false}},"y":{"field":"v","type":"quantitative","axis":null}}},
{"data":{"name":"lab"},"transform":[{"filter":"datum.p=='e3'"}],"mark":{"type":"text","font":"Lato","fontSize":17,"baseline":"middle"},"encoding":{"x":{"field":"g","type":"nominal","axis":null},"y":{"field":"ly","type":"quantitative","axis":null},"text":{"field":"t"}}}]}
],"spacing":2},
{"data":{"values":[{}]},"width":683,"height":2,"view":{"fill":"black","stroke":null},"mark":{"type":"text","fontSize":0},"encoding":{},"title":{"text":"f. Trichoderma sp.","anchor":"middle","offset":0,"dx":0,"fontSize":16}},
{"hconcat":[
{"width":180,"height":176,"title":"f1. Alder","resolve":{"scale":{"x":"independent"},"axis":{"x":"independent","y":"independent"}},"layer":[
{"data":{"name":"box"},"transform":[{"filter":"datum.p=='f1'"}],"mark":"rule","encoding":{"x":{"field":"g","type":"nominal","title":null},"y":{"field":"lo","type":"quantitative","title":"Relative abundance (%)","scale":{"domain":[-1.5e-4,0.00509],"nice":false,"zero":false},"axis":{"values":[0,0.001,0.002,0.003,0.004,0.005],"format":".3f","labelOverlap":false}},"y2":{"field":"hi"}}},
{"data":{"name":"box"},"transform":[{"filter":"datum.p=='f1'"}],"mark":{"type":"bar","width":{"band":1}},"encoding":{"x":{"field":"g","type":"nominal","axis":null},"y":{"field":"q1","type":"quantitative","axis":null},"y2":{"field":"q3"}}},
{"data":{"name":"box"},"transform":[{"filter":"datum.p=='f1'"}],"mark":"tick","encoding":{"x":{"field":"g","type":"nominal","axis":null},"y":{"field":"md","type":"quantitative","axis":null}}},
{"data":{"name":"pts"},"transform":[{"filter":"datum.p=='f1'"},{"window":[{"op":"row_number","as":"rn"}],"groupby":["g"]}],"mark":"circle","encoding":{"x":{"field":"g","type":"nominal","axis":null,"scale":{"paddingInner":0.4,"paddingOuter":0.3}},"xOffset":{"field":"rn","type":"quantitative","scale":{"domain":[1,2,3,4,5,6,7,8,9,10,11,12,13,14,15,16,17,18,19,20,21,22,23,24,25,26,27,28,29,30],"range":[6.7,17.5,11.2,22,4,28.3,14.8,24.7,9.4,20.2,13,26.5,5.8,21.1,15.7,29.2,8.5,23.8,12.1,18.4,30,4.9,25.6,16.6,10.3,27.4,19.3,7.6,22.9,13.9],"nice":false,"zero":false}},"y":{"field":"v","type":"quantitative","axis":null}}},
{"data":{"name":"lab"},"transform":[{"filter":"datum.p=='f1'"}],"mark":{"type":"text","font":"Lato","fontSize":17,"baseline":"middle"},"encoding":{"x":{"field":"g","type":"nominal","axis":null},"y":{"field":"ly","type":"quantitative","axis":null},"text":{"field":"t"}}}]},
{"width":181,"height":176,"title":"f2. Birch","resolve":{"scale":{"x":"independent"},"axis":{"x":"independent","y":"independent"}},"layer":[
{"data":{"name":"box"},"transform":[{"filter":"datum.p=='f2'"}],"mark":"rule","encoding":{"x":{"field":"g","type":"nominal","title":null},"y":{"field":"lo","type":"quantitative","title":"Relative abundance (%)","scale":{"domain":[-1.5e-4,0.00509],"nice":false,"zero":false},"axis":{"values":[0,0.001,0.002,0.003,0.004,0.005],"format":".3f","labelOverlap":false}},"y2":{"field":"hi"}}},
{"data":{"name":"box"},"transform":[{"filter":"datum.p=='f2'"}],"mark":{"type":"bar","width":{"band":1}},"encoding":{"x":{"field":"g","type":"nominal","axis":null},"y":{"field":"q1","type":"quantitative","axis":null},"y2":{"field":"q3"}}},
{"data":{"name":"box"},"transform":[{"filter":"datum.p=='f2'"}],"mark":"tick","encoding":{"x":{"field":"g","type":"nominal","axis":null},"y":{"field":"md","type":"quantitative","axis":null}}},
{"data":{"name":"pts"},"transform":[{"filter":"datum.p=='f2'"},{"window":[{"op":"row_number","as":"rn"}],"groupby":["g"]}],"mark":"circle","encoding":{"x":{"field":"g","type":"nominal","axis":null,"scale":{"paddingInner":0.4,"paddingOuter":0.3}},"xOffset":{"field":"rn","type":"quantitative","scale":{"domain":[1,2,3,4,5,6,7,8,9,10,11,12,13,14,15,16,17,18,19,20,21,22,23,24,25,26,27,28,29,30],"range":[6.7,17.5,11.2,22,4,28.3,14.8,24.7,9.4,20.2,13,26.5,5.8,21.1,15.7,29.2,8.5,23.8,12.1,18.4,30,4.9,25.6,16.6,10.3,27.4,19.3,7.6,22.9,13.9],"nice":false,"zero":false}},"y":{"field":"v","type":"quantitative","axis":null}}},
{"data":{"name":"lab"},"transform":[{"filter":"datum.p=='f2'"}],"mark":{"type":"text","font":"Lato","fontSize":17,"baseline":"middle"},"encoding":{"x":{"field":"g","type":"nominal","axis":null},"y":{"field":"ly","type":"quantitative","axis":null},"text":{"field":"t"}}}]},
{"width":185,"height":176,"title":"f3. Spruce","resolve":{"scale":{"x":"independent"},"axis":{"x":"independent","y":"independent"}},"layer":[
{"data":{"name":"box"},"transform":[{"filter":"datum.p=='f3'"}],"mark":"rule","encoding":{"x":{"field":"g","type":"nominal","title":null},"y":{"field":"lo","type":"quantitative","title":"Relative abundance (%)","scale":{"domain":[-1.5e-4,0.00509],"nice":false,"zero":false},"axis":{"values":[0,0.001,0.002,0.003,0.004,0.005],"format":".3f","labelOverlap":false}},"y2":{"field":"hi"}}},
{"data":{"name":"box"},"transform":[{"filter":"datum.p=='f3'"}],"mark":{"type":"bar","width":{"band":1}},"encoding":{"x":{"field":"g","type":"nominal","axis":null},"y":{"field":"q1","type":"quantitative","axis":null},"y2":{"field":"q3"}}},
{"data":{"name":"box"},"transform":[{"filter":"datum.p=='f3'"}],"mark":"tick","encoding":{"x":{"field":"g","type":"nominal","axis":null},"y":{"field":"md","type":"quantitative","axis":null}}},
{"data":{"name":"pts"},"transform":[{"filter":"datum.p=='f3'"},{"window":[{"op":"row_number","as":"rn"}],"groupby":["g"]}],"mark":"circle","encoding":{"x":{"field":"g","type":"nominal","axis":null,"scale":{"paddingInner":0.4,"paddingOuter":0.3}},"xOffset":{"field":"rn","type":"quantitative","scale":{"domain":[1,2,3,4,5,6,7,8,9,10,11,12,13,14,15,16,17,18,19,20,21,22,23,24,25,26,27,28,29,30],"range":[6.7,17.5,11.2,22,4,28.3,14.8,24.7,9.4,20.2,13,26.5,5.8,21.1,15.7,29.2,8.5,23.8,12.1,18.4,30,4.9,25.6,16.6,10.3,27.4,19.3,7.6,22.9,13.9],"nice":false,"zero":false}},"y":{"field":"v","type":"quantitative","axis":null}}},
{"data":{"name":"lab"},"transform":[{"filter":"datum.p=='f3'"}],"mark":{"type":"text","font":"Lato","fontSize":17,"baseline":"middle"},"encoding":{"x":{"field":"g","type":"nominal","axis":null},"y":{"field":"ly","type":"quantitative","axis":null},"text":{"field":"t"}}}]}
],"spacing":2}
],
"config":{
"view":{"stroke":"#888","strokeWidth":1},
"font":"Liberation Sans",
"title":{"anchor":"start","offset":-20,"dx":5,"fontSize":15,"font":"Lato","fontWeight":"normal","color":"black","frame":"group"},
"axis":{"grid":false},
"axisX":{"labelPadding":-20,"labelFontSize":16,"labelFont":"Lato","labelColor":"black","labelAngle":0,"domain":false,"tickColor":"#999","tickSize":3},
"axisY":{"labelFontSize":8,"labelColor":"#555","titleFontSize":8,"titleFontWeight":"normal","titleColor":"#555","tickColor":"#777","tickSize":3,"domain":false,"labelPadding":2,"titlePadding":3,"labelOverlap":false},
"scale":{"bandPaddingInner":0.4,"bandPaddingOuter":0.3},
"rule":{"color":"#999"},
"bar":{"fill":"white","stroke":"#aaa","strokeWidth":1},
"tick":{"color":"#555","thickness":1,"bandSize":33},
"circle":{"size":5,"color":"#111","opacity":1}
}}
